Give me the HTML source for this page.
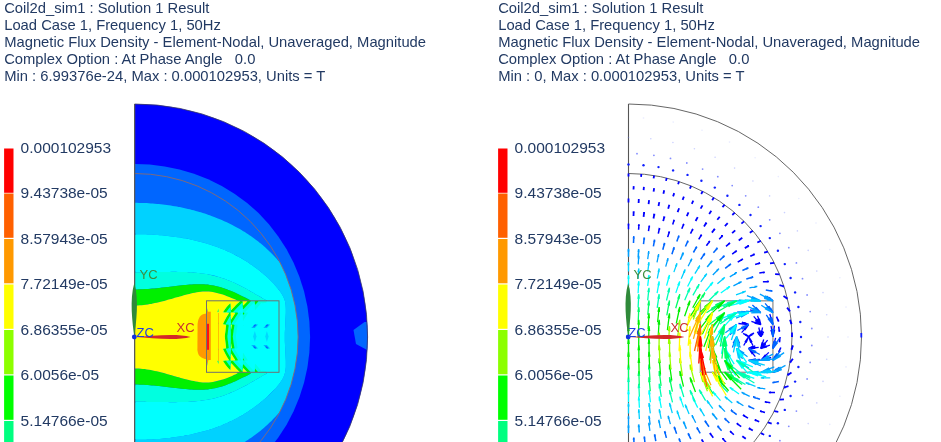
<!DOCTYPE html>
<html><head><meta charset="utf-8"><title>Coil2d_sim1 : Solution 1 Result</title>
<style>html,body{margin:0;padding:0;background:#fff;overflow:hidden}svg{display:block}text{white-space:pre}text{font-family:"Liberation Sans",sans-serif;fill:#223a63}</style>
</head><body>
<svg width="941" height="442" viewBox="0 0 941 442">
<rect width="941" height="442" fill="#fff"/>
<text x="4.2" y="13.2" font-size="14.77" xml:space="preserve">Coil2d_sim1 : Solution 1 Result</text>
<text x="4.2" y="30.2" font-size="14.77" xml:space="preserve">Load Case 1, Frequency 1, 50Hz</text>
<text x="4.2" y="47.2" font-size="14.77" xml:space="preserve">Magnetic Flux Density - Element-Nodal, Unaveraged, Magnitude</text>
<text x="4.2" y="64.2" font-size="14.77" xml:space="preserve">Complex Option : At Phase Angle   0.0</text>
<text x="4.2" y="81.2" font-size="14.77" xml:space="preserve">Min : 6.99376e-24, Max : 0.000102953, Units = T</text>
<text x="498.2" y="13.2" font-size="14.77" xml:space="preserve">Coil2d_sim1 : Solution 1 Result</text>
<text x="498.2" y="30.2" font-size="14.77" xml:space="preserve">Load Case 1, Frequency 1, 50Hz</text>
<text x="498.2" y="47.2" font-size="14.77" xml:space="preserve">Magnetic Flux Density - Element-Nodal, Unaveraged, Magnitude</text>
<text x="498.2" y="64.2" font-size="14.77" xml:space="preserve">Complex Option : At Phase Angle   0.0</text>
<text x="498.2" y="81.2" font-size="14.77" xml:space="preserve">Min : 0, Max : 0.000102953, Units = T</text>
<rect x="4.1" y="148.5" width="9.4" height="44.3" fill="#ff0000"/>
<text x="20.6" y="153" font-size="15.5">0.000102953</text>
<rect x="4.1" y="193.5" width="9.4" height="44.3" fill="#ff6000"/>
<text x="20.6" y="198" font-size="15.5">9.43738e-05</text>
<rect x="4.1" y="239" width="9.4" height="44.3" fill="#ff9900"/>
<text x="20.6" y="243.5" font-size="15.5">8.57943e-05</text>
<rect x="4.1" y="284.5" width="9.4" height="44.3" fill="#ffff00"/>
<text x="20.6" y="289" font-size="15.5">7.72149e-05</text>
<rect x="4.1" y="330" width="9.4" height="44.3" fill="#8cff00"/>
<text x="20.6" y="334.5" font-size="15.5">6.86355e-05</text>
<rect x="4.1" y="375.5" width="9.4" height="44.3" fill="#00ff00"/>
<text x="20.6" y="380" font-size="15.5">6.0056e-05</text>
<rect x="4.1" y="421" width="9.4" height="44.3" fill="#00ff80"/>
<text x="20.6" y="425.5" font-size="15.5">5.14766e-05</text>
<rect x="498.1" y="148.5" width="9.4" height="44.3" fill="#ff0000"/>
<text x="514.6" y="153" font-size="15.5">0.000102953</text>
<rect x="498.1" y="193.5" width="9.4" height="44.3" fill="#ff6000"/>
<text x="514.6" y="198" font-size="15.5">9.43738e-05</text>
<rect x="498.1" y="239" width="9.4" height="44.3" fill="#ff9900"/>
<text x="514.6" y="243.5" font-size="15.5">8.57943e-05</text>
<rect x="498.1" y="284.5" width="9.4" height="44.3" fill="#ffff00"/>
<text x="514.6" y="289" font-size="15.5">7.72149e-05</text>
<rect x="498.1" y="330" width="9.4" height="44.3" fill="#8cff00"/>
<text x="514.6" y="334.5" font-size="15.5">6.86355e-05</text>
<rect x="498.1" y="375.5" width="9.4" height="44.3" fill="#00ff00"/>
<text x="514.6" y="380" font-size="15.5">6.0056e-05</text>
<rect x="498.1" y="421" width="9.4" height="44.3" fill="#00ff80"/>
<text x="514.6" y="425.5" font-size="15.5">5.14766e-05</text>
<defs><clipPath id="cOut"><path d="M134.6,104 A233,233 0 0 1 134.6,570 Z"/></clipPath><clipPath id="cArc"><path d="M134.6,173.5 A163.5,163.5 0 0 1 134.6,500.5 Z"/></clipPath></defs>
<g clip-path="url(#cOut)">
<rect x="130" y="100" width="245" height="345" fill="#0000ff"/>
<path fill="#0066ff" d="M134.6,510 149.7,509.4 164.7,507.6 179.5,504.6 194,500.3 208.2,494.8 221.8,488.1 234.8,480.1 247.1,471.1 258.5,460.9 268.9,449.7 278.3,437.6 286.6,424.7 293.6,411.2 299.5,397 304.1,382.4 307.4,367.5 309.4,352.3 310.1,337 309.4,321.7 307.4,306.5 304.1,291.6 299.5,277 293.6,262.8 286.6,249.3 278.3,236.4 268.9,224.3 258.5,213.1 247.1,202.9 234.8,193.9 221.8,185.9 208.2,179.2 194,173.7 179.5,169.4 164.7,166.4 149.7,164.6 134.6,164Z"/>
<path fill="#0066ff" d="M353.5,330 L364.5,322 L369,322 L369,351 L356,344Z"/>
<g clip-path="url(#cArc)">
<path fill="#00d2ff" fill-rule="evenodd" d="M135.8,471.2 137.8,471.2 139.8,471.1 141.8,471.1 143.8,471 145.8,470.9 147.8,470.8 149.8,470.7 151.8,470.6 153.8,470.4 155.8,470.2 157.8,470.1 159.7,469.9 161.8,469.6 163.8,469.4 165.8,469.1 167.8,468.9 169.8,468.6 171.8,468.3 173.8,468 175.8,467.6 177.8,467.2 179.8,466.9 181.8,466.5 183.8,466 185.8,465.6 187.8,465.1 189.8,464.7 191.8,464.2 193.8,463.6 195.8,463.1 197.8,462.5 199.8,462 201.8,461.4 203.4,460.9 204.8,460.4 206.5,459.9 207.8,459.4 209.4,458.9 210.8,458.3 212.1,457.9 213.8,457.2 215.8,456.4 217.3,455.9 218.8,455.2 220.8,454.4 222.1,453.9 223.8,453.1 225.8,452.2 227.8,451.2 229.8,450.2 231.8,449.2 233.8,448.2 235.8,447.1 237.8,446 239.8,444.9 241.6,443.9 242.8,443.1 243.8,442.5 244.8,441.9 245.8,441.2 246.9,440.6 247.8,439.9 248.8,439.3 249.8,438.6 250.8,437.9 251.9,437.2 252.9,436.5 253.8,435.8 254.9,435 255.9,434.3 256.9,433.5 257.9,432.8 258.9,432 259.9,431.2 260.9,430.4 261.9,429.5 262.9,428.7 263.8,427.9 264.9,427 265.9,426.1 266.9,425.2 267.9,424.2 268.9,423.3 269.9,422.3 270.9,421.4 271.9,420.4 272.9,419.3 273.9,418.3 274.9,417.2 275.9,416.2 276.9,415 277.9,413.9 278.7,412.9 279.6,411.9 280.4,410.9 281.2,409.9 282,408.9 282.8,407.9 283.5,406.9 284.2,405.9 285,404.9 285.7,403.9 286.4,402.9 287,401.9 287.7,400.9 288.3,399.9 288.9,398.9 289.5,397.9 290.7,395.9 291.8,393.9 292.8,391.9 293.8,389.9 294.7,387.9 295.5,385.9 296.3,383.9 296.9,382.3 297.3,380.9 297.9,379.1 298.4,376.9 298.9,375.2 299.3,372.9 299.7,370.9 300,368.9 300.3,366.9 300.5,364.9 300.7,362.9 300.9,360.9 301,358.9 301.1,356.9 301.2,354.9 301.2,352.9 301.3,350.9 301.3,348.9 301.3,346.9 301.3,344.9 301.3,342.9 301.3,340.9 301.3,338.9 301.3,336.9 301.3,334.9 301.3,332.9 301.3,330.9 301.3,328.9 301.3,326.9 301.3,324.9 301.3,322.9 301.2,320.9 301.1,318.9 301.1,316.9 301,314.9 300.9,313.1 300.7,310.9 300.5,308.9 300.3,306.9 300,304.9 299.7,302.9 299.3,300.9 298.9,298.9 298.4,296.9 297.9,294.9 297.2,292.9 296.6,290.9 295.9,289 295,286.9 294.1,284.9 293.2,282.9 292.2,280.9 291.1,278.9 290,276.9 288.9,275 288.2,273.9 287.5,272.9 286.9,271.9 286.2,270.9 285.5,269.9 284.8,268.9 284.1,267.9 283.3,266.9 282.6,265.9 281.9,265 281,263.9 280.2,262.9 279.4,261.9 278.5,260.9 277.6,259.9 276.9,259 275.9,257.9 275,256.9 274,255.9 273.1,254.9 272.1,253.9 271.1,252.9 270.1,251.9 269,250.9 268,249.9 266.9,248.9 265.9,247.9 264.9,247 263.9,246.2 262.9,245.3 261.9,244.5 260.9,243.6 259.9,242.9 258.9,242 257.9,241.2 256.9,240.5 255.8,239.7 254.8,239 253.9,238.2 252.8,237.5 251.8,236.8 250.8,236.1 249.9,235.4 248.8,234.7 247.8,234.1 246.9,233.4 245.8,232.8 244.9,232.1 243.8,231.5 242.8,230.9 241.8,230.3 239.8,229.1 237.8,228 235.9,226.9 234,225.9 232.8,225.3 230.8,224.3 228.8,223.3 226.8,222.3 224.9,221.4 223.7,220.9 221.8,220 219.9,219.2 217.8,218.4 216.6,217.9 214.8,217.2 212.8,216.4 211.4,215.9 209.8,215.3 208.6,214.9 206.8,214.3 204.8,213.6 202.8,213 200.8,212.3 199.3,211.9 197.8,211.5 195.8,210.9 193.8,210.3 192,209.9 189.8,209.3 187.9,208.9 185.9,208.4 183.8,208 181.8,207.5 179.8,207.1 178.5,206.9 176.9,206.6 174.8,206.2 172.8,205.9 170.8,205.6 168.8,205.3 166.8,205 164.9,204.7 162.8,204.5 160.8,204.3 158.8,204 157.1,203.9 154.8,203.7 152.8,203.5 150.8,203.4 148.8,203.2 146.8,203.1 144.8,203 142.8,203 140.8,202.9 139.1,202.9 136.8,202.8 134.9,202.8 134.8,204.9 134.8,206.9 134.8,208.9 134.8,210.9 134.8,212.9 134.8,214.9 134.8,216.9 134.8,218.9 134.8,220.9 134.8,222.9 134.8,224.9 134.8,226.9 134.8,228.9 134.8,230.9 134.8,232.9 135.8,234.2 137.8,234.2 139.8,234.2 141.8,234.2 143.8,234.3 145.9,234.3 147.8,234.4 149.8,234.5 151.8,234.6 153.8,234.7 155.8,234.9 157.8,235 159.8,235.2 161.8,235.3 163.8,235.5 165.8,235.7 167.8,235.9 169.9,236.2 171.8,236.4 173.8,236.7 175.3,236.9 176.8,237.1 178.8,237.4 180.8,237.7 182.8,238 184.8,238.4 186.8,238.8 188.9,239.1 190.8,239.6 192.3,239.9 193.8,240.2 195.8,240.7 197.9,241.2 199.8,241.7 201.8,242.2 203.8,242.7 205.8,243.3 207.7,243.9 209.8,244.5 211.9,245.2 213.8,245.9 215.8,246.6 217.8,247.3 219.4,247.9 220.8,248.4 222.8,249.2 224.3,249.9 225.8,250.5 227.8,251.4 229.9,252.3 231,252.9 232.8,253.8 234.8,254.8 236.8,255.8 238.7,256.9 239.9,257.5 241.8,258.6 243.8,259.8 244.8,260.4 245.8,261.1 246.8,261.7 247.9,262.3 248.9,263 249.8,263.7 250.8,264.4 251.8,265 252.8,265.8 253.9,266.5 254.9,267.2 255.8,267.9 256.9,268.7 257.9,269.5 258.9,270.2 259.9,271 260.9,271.9 261.9,272.7 262.9,273.5 263.9,274.4 264.9,275.3 265.9,276.1 266.9,277.1 267.7,277.9 268.8,278.9 269.8,279.9 270.8,280.9 271.8,281.9 272.8,282.9 273.8,283.9 274.7,284.9 275.6,285.9 276.4,286.9 277.3,287.9 278.1,288.9 278.9,289.8 279.7,290.9 280.4,291.9 281.1,292.9 281.7,293.9 282.3,294.9 283.4,296.9 284.2,298.9 284.8,300.9 285.3,302.9 285.6,304.9 285.7,306.9 285.8,308.9 285.8,310.9 285.8,312.9 285.7,314.9 285.6,316.9 285.5,318.9 285.4,320.9 285.3,322.9 285.2,324.9 285.1,326.9 285,328.9 284.9,330.9 284.8,332.9 284.8,334.9 284.8,336.9 284.8,338.9 284.8,340.9 284.9,342.9 285,344.9 285.1,346.9 285.2,348.9 285.3,350.9 285.4,352.9 285.5,354.9 285.6,356.9 285.7,358.9 285.8,360.9 285.8,362.9 285.8,364.9 285.8,366.9 285.6,368.9 285.3,370.9 284.9,372.9 284.3,374.9 283.9,376 283,377.9 281.9,379.9 281.2,380.9 280.6,381.9 279.9,382.9 279.1,383.9 278.3,384.9 277.5,385.9 276.7,386.9 275.8,387.8 274.9,388.9 274,389.9 273.1,390.9 272.1,391.9 271.1,392.9 270.1,393.9 269.1,394.9 268,395.9 266.9,396.9 265.9,397.9 264.9,398.7 263.9,399.6 262.9,400.5 261.9,401.3 260.9,402.1 260,402.9 258.9,403.8 257.9,404.5 256.9,405.3 255.8,406.1 254.8,406.8 253.8,407.5 252.8,408.3 251.8,409 250.8,409.6 249.8,410.3 248.8,411 247.8,411.7 246.8,412.3 245.8,412.9 244.8,413.6 243.9,414.2 242.7,414.9 241,415.9 239.8,416.5 237.8,417.6 235.8,418.7 233.8,419.7 231.8,420.7 229.9,421.7 227.9,422.6 225.8,423.5 223.8,424.3 222.6,424.9 220.8,425.6 218.8,426.3 217.4,426.9 215.9,427.4 214.6,427.9 212.8,428.5 210.8,429.2 208.8,429.8 206.8,430.4 205.2,430.9 203.8,431.3 201.8,431.8 199.8,432.3 197.8,432.8 195.8,433.3 193.9,433.8 191.8,434.2 189.9,434.6 187.8,435 185.8,435.4 183.8,435.8 181.8,436.1 179.8,436.5 177.8,436.8 175.8,437.1 173.8,437.3 171.8,437.6 169.8,437.8 167.8,438.1 165.8,438.3 163.9,438.5 161.8,438.7 159.9,438.8 157.8,439 155.8,439.1 153.8,439.3 151.8,439.4 149.8,439.5 147.9,439.6 145.8,439.7 143.8,439.7 141.8,439.8 139.8,439.8 137.8,439.8 135.8,439.8 134.8,440.9 134.8,442.9 134.8,444.9 134.8,446.9 134.8,448.9 134.8,450.9 134.8,452.9 134.8,454.9 134.8,456.9 134.8,458.9 134.8,460.9 134.8,462.9 134.8,464.9 134.8,466.9 134.8,468.9 134.8,470.9Z"/>
<path fill="#00ffff" fill-rule="evenodd" d="M135.8,439.8 137.8,439.8 139.8,439.8 141.8,439.8 143.8,439.7 145.8,439.7 147.8,439.6 149.8,439.5 151.8,439.4 153.8,439.3 155.8,439.1 157.8,439 159.4,438.9 161.8,438.7 163.8,438.5 165.8,438.3 167.8,438.1 169.6,437.9 171.8,437.6 173.8,437.3 175.8,437.1 177.8,436.8 179.8,436.5 181.8,436.1 183.4,435.9 184.8,435.6 186.8,435.2 188.7,434.9 190.8,434.4 192.8,434 194.8,433.6 196.8,433.1 198.8,432.6 200.8,432.1 202.8,431.5 204.9,431 206.8,430.4 208.6,429.9 209.8,429.5 211.7,428.9 213.8,428.2 215.8,427.4 217.4,426.9 218.8,426.3 220.1,425.9 221.9,425.2 223.8,424.3 225.8,423.5 227.2,422.9 228.8,422.1 230.9,421.2 232.9,420.2 234.8,419.2 236.8,418.2 238.8,417.1 240.8,415.9 242.7,414.9 243.9,414.2 244.8,413.6 245.8,412.9 246.8,412.3 247.8,411.7 248.8,411 249.8,410.3 250.9,409.6 251.8,409 252.8,408.3 253.9,407.5 254.8,406.8 255.8,406.1 256.9,405.3 257.9,404.5 258.9,403.8 259.9,403 260.9,402.1 261.9,401.3 262.9,400.5 263.9,399.6 264.7,398.9 265.8,397.9 266.9,396.9 267.9,396 268.9,395.1 269.9,394.1 270.9,393.1 271.9,392.1 272.9,391.1 273.9,390 274.9,388.9 275.8,387.9 276.7,386.9 277.5,385.9 278.3,384.9 279.1,383.9 279.9,382.9 280.6,381.9 281.2,380.9 281.9,379.9 282.9,378.2 283.5,376.9 284.3,374.9 284.9,373.1 285.3,370.9 285.6,368.9 285.8,366.9 285.8,364.9 285.8,362.9 285.8,360.9 285.7,358.9 285.6,356.9 285.5,354.9 285.4,352.9 285.3,350.9 285.2,348.9 285.1,346.9 285,344.9 284.9,342.9 284.8,340.9 284.8,338.9 284.8,336.9 284.8,334.9 284.8,332.9 284.9,330.9 285,328.9 285.1,326.9 285.2,324.9 285.3,322.9 285.4,320.9 285.5,318.9 285.6,316.9 285.7,314.9 285.8,312.9 285.8,310.9 285.8,308.9 285.7,306.9 285.6,304.9 285.3,302.9 284.9,300.9 284.2,298.9 283.4,296.9 282.3,294.9 281.7,293.9 281.1,292.9 280.4,291.9 279.7,290.9 278.9,289.9 278.1,288.9 277.3,287.9 276.4,286.9 275.6,285.9 274.7,284.9 273.9,284 272.9,282.9 271.9,281.9 270.9,280.9 269.9,279.9 268.9,278.9 267.9,278 266.9,277.1 265.9,276.1 264.9,275.3 263.9,274.4 262.9,273.5 261.9,272.7 260.9,271.9 259.9,271 258.9,270.2 257.9,269.5 256.9,268.7 255.8,267.9 254.8,267.2 253.8,266.5 252.8,265.8 251.8,265 250.8,264.4 249.8,263.7 248.8,263 247.9,262.3 246.8,261.7 245.8,261.1 244.8,260.4 243.8,259.8 242.8,259.2 240.8,258.1 238.8,256.9 236.9,255.9 235,254.9 233.8,254.3 231.8,253.3 229.8,252.3 227.8,251.4 226.6,250.9 224.8,250.1 222.8,249.2 220.9,248.4 219.4,247.9 217.8,247.3 215.8,246.6 213.9,245.9 211.8,245.2 209.8,244.5 207.8,243.9 205.8,243.3 204.3,242.9 202.9,242.5 200.8,241.9 198.8,241.4 196.8,240.9 194.8,240.4 192.8,240 190.8,239.6 188.8,239.1 187.4,238.9 185.8,238.6 183.8,238.2 181.9,237.9 179.8,237.5 177.8,237.2 175.8,236.9 173.8,236.7 171.8,236.4 169.8,236.2 167.8,235.9 165.8,235.7 163.8,235.5 161.8,235.3 159.8,235.2 157.8,235 155.9,234.9 153.8,234.7 151.8,234.6 149.8,234.5 147.8,234.4 145.8,234.3 143.8,234.3 141.8,234.2 139.8,234.2 137.8,234.2 135.8,234.2 134.8,234.9 134.8,236.9 134.8,238.9 134.8,240.9 134.8,242.9 134.8,244.9 134.8,246.9 134.8,248.9 134.8,250.9 134.8,252.9 134.8,254.9 134.8,256.9 134.8,258.9 134.8,260.9 134.8,262.9 134.8,264.9 134.8,266.9 134.8,268.9 134.8,270.9 135.8,272.2 137.8,272.2 139.8,272.2 141.8,272.2 143.8,272.2 145.8,272.1 147.8,272.1 149.8,272.1 151.8,272.1 153.8,272 155.8,272 157.8,272 159.9,272 161.8,271.9 163.8,271.9 165.8,271.9 167.8,271.9 169.8,271.9 171.8,271.8 173.8,271.8 175.8,271.8 177.8,271.9 179.8,271.9 181.8,271.9 183.8,272 185.9,272.1 187.8,272.1 189.8,272.2 191.8,272.4 193.8,272.5 195.8,272.7 197.7,272.9 199.8,273.1 201.8,273.4 203.8,273.7 205.8,274 207.8,274.3 209.8,274.7 211.8,275.1 213.8,275.6 215.8,276.1 217.8,276.7 219.9,277.3 221.8,277.9 223.8,278.6 225.8,279.3 227.4,279.9 228.8,280.4 230.8,281.3 232.3,281.9 233.8,282.6 235.8,283.5 237.9,284.4 239.9,285.4 241.9,286.5 243.8,287.5 245.8,288.6 247.8,289.7 249.8,290.8 251.7,291.9 252.8,292.5 254.8,293.7 256.8,294.9 257.9,295.5 259.9,296.6 261.9,297.8 263.7,298.9 264.9,299.5 266.9,300.6 265.9,301.6 263.9,302.3 262.4,302.9 260.9,303.4 259.6,303.9 257.9,304.5 255.8,305.3 254.6,305.9 252.8,306.7 250.8,307.7 248.8,308.8 247.9,309.5 246.8,310.2 245.9,310.9 244.8,311.8 243.8,312.7 242.9,313.8 242,314.9 241.3,315.9 240.6,316.9 239.8,318.3 239.1,319.9 238.4,321.9 237.8,323.8 237.4,325.9 237,327.9 236.8,329.4 236.7,330.9 236.5,332.9 236.4,334.9 236.4,336.9 236.4,338.9 236.5,340.9 236.7,342.9 236.8,344.6 237.2,346.9 237.5,348.9 237.8,350.2 238.3,351.9 238.8,353.4 239.5,354.9 240.5,356.9 241.1,357.9 241.8,358.9 242.6,359.9 243.4,360.9 244.4,361.9 245.6,362.9 246.8,363.8 247.8,364.5 248.8,365.2 250,365.9 251.8,366.9 253.8,367.8 255.8,368.7 257.9,369.5 259.9,370.2 261.6,370.9 262.9,371.3 264.5,371.9 265.9,372.4 267.1,372.9 266,373.9 264.9,374.5 262.9,375.6 260.9,376.8 259,377.9 257.9,378.5 255.8,379.7 253.8,380.9 252.1,381.9 250.8,382.6 248.8,383.7 246.9,384.9 245,385.9 243.9,386.5 241.8,387.5 239.8,388.6 237.9,389.6 235.8,390.5 233.8,391.4 231.8,392.3 230.5,392.9 228.9,393.6 226.8,394.3 225.4,394.9 223.8,395.4 222.5,395.9 220.8,396.4 219.4,396.9 217.8,397.3 215.9,397.9 213.8,398.4 211.8,398.9 209.8,399.3 207.9,399.7 205.8,400 203.8,400.3 201.9,400.6 200,400.9 197.9,401.1 195.8,401.3 193.8,401.5 191.8,401.6 189.8,401.8 187.8,401.9 185.8,401.9 183.8,402 181.8,402.1 179.8,402.1 177.8,402.1 175.8,402.2 173.8,402.2 171.8,402.2 169.8,402.2 167.8,402.1 165.8,402.1 163.8,402.1 161.8,402.1 159.8,402 157.8,402 155.8,402 153.8,402 151.8,401.9 149.8,401.9 147.8,401.9 145.8,401.9 143.8,401.8 141.8,401.8 139.8,401.8 137.8,401.8 135.8,401.8 134.8,402.9 134.8,404.9 134.8,406.9 134.8,408.9 134.8,410.9 134.8,412.9 134.8,414.9 134.8,416.9 134.8,418.9 134.8,420.9 134.8,422.9 134.8,424.9 134.8,426.9 134.8,428.9 134.8,430.9 134.8,432.9 134.8,434.9 134.8,436.9 134.8,438.9Z"/>
<path fill="#00ffe0" fill-rule="evenodd" d="M147.8,401.9 149.8,401.9 151.8,401.9 153.8,402 155.8,402 157.8,402 159.8,402 161.8,402.1 163.8,402.1 165.8,402.1 167.8,402.1 169.8,402.2 171.8,402.2 173.9,402.2 175.8,402.2 177.8,402.1 179.8,402.1 181.8,402.1 183.8,402 185.8,401.9 187.5,401.9 189.8,401.8 191.9,401.6 193.8,401.5 195.8,401.3 197.9,401.1 199.8,400.9 201.9,400.6 203.8,400.3 205.8,400 207.8,399.7 209.8,399.3 211.8,398.9 213.8,398.4 215.8,397.9 217.8,397.3 219.4,396.9 220.8,396.4 222.5,395.9 223.8,395.4 225.4,394.9 226.8,394.3 228,393.9 229.8,393.1 231.8,392.3 233.9,391.4 235.1,390.9 236.8,390 238.8,389.1 240.8,388.1 242.8,387 244.8,386 246.8,384.9 248.6,383.9 249.8,383.2 251.8,382 253.8,380.9 255.6,379.9 256.9,379.1 258.9,377.9 260.7,376.9 261.9,376.2 263.9,375.1 265.9,374 266.9,373.1 265.9,372.4 264.5,371.9 262.9,371.3 261.6,370.9 259.9,370.2 257.9,369.5 256.3,368.9 254.9,368.2 252.8,367.3 250.9,366.3 248.8,365.2 247.8,364.5 246.9,363.9 245.8,363.1 244.8,362.2 243.8,361.3 242.8,360.2 241.8,359 241.1,357.9 240.5,356.9 239.8,355.7 239,353.9 238.3,351.9 237.8,350.2 237.5,348.9 237.2,346.9 236.9,344.9 236.7,342.9 236.5,340.9 236.4,338.9 236.4,336.9 236.4,334.9 236.5,332.9 236.7,330.9 236.8,329.4 237,327.9 237.4,325.9 237.8,323.9 238.4,321.9 238.8,320.6 239.6,318.9 240.6,316.9 241.3,315.9 242,314.9 242.8,313.9 243.7,312.9 244.7,311.9 245.8,310.9 246.8,310.2 247.8,309.5 248.8,308.8 250.5,307.9 251.9,307.1 253.8,306.2 255.8,305.3 257.9,304.5 259.6,303.9 260.9,303.4 262.4,302.9 263.9,302.3 265.2,301.9 266.9,301.1 265.9,300.1 263.9,298.9 262,297.9 260.9,297.2 258.9,296.1 256.9,294.9 255.1,293.9 253.8,293.1 251.8,292 249.9,290.9 248.9,290.3 246.8,289.1 244.8,288 242.9,287 240.8,285.9 238.8,284.9 236.8,284 234.8,283 232.8,282.1 230.8,281.3 228.8,280.4 227.4,279.9 225.8,279.3 223.8,278.6 221.8,277.9 219.8,277.3 218.5,276.9 216.8,276.4 214.9,275.9 212.9,275.4 210.8,274.9 208.8,274.5 206.8,274.1 205.2,273.9 202.9,273.5 200.8,273.2 198.8,273 196.8,272.8 194.8,272.6 192.8,272.4 190.8,272.3 188.8,272.2 186.8,272.1 184.8,272 182.8,272 180.8,271.9 178.8,271.9 176.8,271.9 174.8,271.8 172.8,271.8 170.8,271.8 168.8,271.9 167.2,271.9 164.8,271.9 162.8,271.9 160.8,271.9 158.8,272 156.8,272 154.8,272 152.8,272.1 150.8,272.1 148.8,272.1 146.8,272.1 144.8,272.2 142.8,272.2 140.8,272.2 138.8,272.2 136.8,272.2 134.8,272.2 134.8,273.9 134.8,275.9 134.8,277.9 134.8,279.9 134.8,281.9 134.8,283.9 134.8,285.9 134.8,287.9 135.8,289.4 137.9,289.4 139.8,289.3 141.8,289.2 143.8,289.2 145.8,289.1 147.8,288.9 149.8,288.8 151.8,288.6 153.8,288.5 155.8,288.3 157.8,288.1 159.8,287.9 161.8,287.6 163.8,287.4 165.8,287.2 167.8,286.9 169.8,286.7 171.8,286.4 173.8,286.2 175.9,285.9 177.8,285.7 179.8,285.5 181.8,285.3 183.8,285 185.6,284.9 187.8,284.7 189.8,284.5 191.8,284.4 193.8,284.3 195.8,284.2 197.8,284.2 199.8,284.2 201.8,284.2 203.8,284.3 205.8,284.4 207.8,284.6 209.7,284.9 211.8,285.2 213.8,285.6 215.3,285.9 216.9,286.2 218.8,286.7 220.8,287.3 222.7,287.9 224.8,288.6 226.8,289.3 228.3,289.9 229.8,290.5 231.9,291.3 233.2,291.9 234.8,292.6 236.8,293.5 238.9,294.4 240.8,295.4 242.8,296.4 244.8,297.3 246.8,298.3 248.9,299.4 250.8,300.4 249.9,301.8 247.8,302.7 245.8,303.6 243.9,304.6 241.8,305.7 240.8,306.4 239.8,307.1 238.9,307.9 237.8,308.8 236.9,309.9 236.1,310.9 235.4,311.9 234.8,312.9 233.8,314.7 233.4,315.9 232.8,317.4 232.4,318.9 232,320.9 231.7,322.9 231.4,324.9 231.2,326.9 231.1,328.9 230.9,330.9 230.9,332.9 230.8,334.9 230.8,336.9 230.8,338.9 230.9,340.9 230.9,342.9 231,344.9 231.2,346.9 231.4,348.9 231.6,350.9 231.9,352.3 232.1,353.9 232.6,355.9 233.3,357.9 233.8,359.3 234.6,360.9 235.8,362.8 236.7,363.9 237.6,364.9 238.6,365.9 239.8,366.9 240.9,367.6 241.8,368.3 242.9,368.9 244.7,369.9 245.8,370.4 247.8,371.3 249.1,371.9 250.8,372.6 250.4,373.9 248.8,374.6 246.8,375.7 244.8,376.7 242.9,377.6 240.8,378.6 238.8,379.6 236.8,380.5 234.8,381.4 232.8,382.3 231.5,382.9 229.8,383.5 227.8,384.3 226.3,384.9 224.9,385.4 223.5,385.9 221.9,386.4 220.2,386.9 218.8,387.3 216.8,387.8 214.8,388.2 212.8,388.6 211.4,388.9 209.8,389.1 207.8,389.4 205.8,389.6 203.8,389.7 201.8,389.8 199.8,389.8 197.8,389.8 195.8,389.8 193.8,389.7 191.8,389.6 189.8,389.5 187.8,389.3 185.8,389.1 183.8,389 181.8,388.7 179.8,388.5 177.8,388.3 175.8,388.1 174.4,387.9 172.8,387.7 170.8,387.4 168.8,387.2 166.8,386.9 164.8,386.7 162.8,386.5 160.8,386.2 158.9,386 157.3,385.9 155.8,385.7 153.8,385.5 151.8,385.4 149.8,385.2 147.8,385.1 145.8,384.9 143.8,384.8 141.8,384.8 139.8,384.7 137.8,384.6 135.8,384.6 134.8,385.9 134.8,387.9 134.8,389.9 134.8,391.9 134.8,393.9 134.8,395.9 134.8,397.9 134.8,399.9 134.8,401.8 136.8,401.8 138.8,401.8 140.8,401.8 142.8,401.8 144.8,401.8 146.8,401.9Z"/>
<path fill="#00f000" fill-rule="evenodd" d="M183.8,389 185.8,389.1 187.8,389.3 189.8,389.5 191.9,389.6 193.8,389.7 195.8,389.8 197.8,389.8 199.8,389.8 201.8,389.8 203.8,389.7 205.8,389.6 207.8,389.4 209.8,389.1 211.4,388.9 212.8,388.6 214.8,388.2 216.4,387.9 217.9,387.5 219.8,387 221.8,386.4 223.5,385.9 224.8,385.4 226.3,384.9 227.9,384.3 229.8,383.5 231.5,382.9 232.8,382.3 234.8,381.4 236,380.9 237.8,380 239.8,379.1 241.8,378.1 243.9,377.1 245.9,376.2 247.9,375.2 249.8,374.1 250.9,373.5 249.8,372.2 247.8,371.3 245.8,370.4 244.7,369.9 242.8,368.9 241.8,368.3 240.9,367.6 239.8,366.9 238.8,366.1 237.8,365.2 236.8,364.1 235.9,362.9 235.2,361.9 234.1,359.9 233.3,357.9 232.8,356.6 232.4,354.9 231.9,352.9 231.6,350.9 231.4,348.9 231.2,346.9 231,344.9 230.9,342.9 230.9,340.9 230.8,338.9 230.8,336.9 230.8,334.9 230.9,332.9 230.9,330.9 231.1,328.9 231.2,326.9 231.4,324.9 231.7,322.9 232,320.9 232.4,318.9 232.8,317.4 233.4,315.9 233.8,314.7 234.8,312.9 235.4,311.9 236.1,310.9 236.8,309.9 237.8,308.9 238.8,307.9 239.8,307.1 240.8,306.4 241.8,305.7 242.8,305.1 244.9,304 246.8,303.1 248.9,302.2 250.9,301.3 249.9,299.9 247.9,298.9 245.9,297.9 243.9,296.9 241.9,295.9 239.8,294.9 237.8,294 235.8,293 233.9,292.1 231.9,291.3 229.8,290.5 228.3,289.9 226.8,289.3 225.6,288.9 223.8,288.3 221.8,287.6 219.9,287 217.9,286.5 215.8,286 213.8,285.6 211.9,285.2 209.8,284.9 207.9,284.6 205.8,284.4 203.8,284.3 201.8,284.2 199.8,284.2 197.8,284.2 195.9,284.2 193.8,284.3 191.8,284.4 189.9,284.5 187.8,284.7 185.8,284.9 183.8,285 181.8,285.3 179.8,285.5 177.8,285.7 175.8,285.9 173.8,286.2 171.8,286.4 169.8,286.7 168.4,286.9 166.8,287.1 164.8,287.3 162.9,287.5 160.8,287.8 158.8,288 156.8,288.2 154.9,288.4 152.8,288.6 150.8,288.7 148.8,288.9 146.8,289 144.8,289.1 142.8,289.2 140.8,289.3 138.8,289.3 136.8,289.4 134.8,289.4 134.8,291.9 134.8,293.9 134.8,295.9 134.8,297.9 134.8,299.9 134.8,301.9 134.8,303.9 134.8,305.5 136.8,305.5 138.8,305.4 140.8,305.3 142.8,305.1 144.8,304.9 146.8,304.6 148.8,304.3 150.8,303.9 152.8,303.6 154.9,303.1 156.8,302.7 158.8,302.2 160.3,301.9 161.8,301.5 163.8,300.9 165.8,300.4 167.8,299.9 169.8,299.3 171.3,298.9 172.8,298.4 174.8,297.9 176.8,297.3 178.2,296.9 179.8,296.4 181.8,295.9 183.8,295.3 185.5,294.9 186.8,294.5 188.8,294 190.8,293.5 192.8,293.1 194.8,292.7 196.8,292.3 198.8,292 200.8,291.8 202.8,291.6 204.8,291.5 206.8,291.5 208.9,291.6 210.8,291.8 212.8,292 214.8,292.4 216.8,292.9 218.9,293.4 220.6,293.9 221.9,294.3 223.7,294.9 225.8,295.6 227.8,296.4 229,296.9 230.8,297.6 232.8,298.5 234.8,299.3 236.1,299.9 237.8,300.8 236.8,301.8 235.1,302.9 233.8,303.7 232.8,304.5 231.8,305.4 230.8,306.4 229.8,307.8 229.2,308.9 228.3,310.9 227.8,312.1 227.4,313.9 227,315.9 226.7,317.9 226.5,319.9 226.4,321.9 226.3,323.9 226.2,325.9 226.2,327.9 226.2,329.9 226.1,331.9 226.1,333.9 226.1,335.9 226.1,337.9 226.1,339.9 226.1,341.9 226.2,343.9 226.2,345.9 226.2,347.9 226.3,349.9 226.4,351.9 226.5,353.9 226.7,355.9 227,357.9 227.3,359.9 227.8,361.9 228.6,363.9 229.6,365.9 230.3,366.9 231.1,367.9 232.1,368.9 233.3,369.9 234.7,370.9 235.8,371.6 237.8,372.8 236.8,373.7 234.8,374.7 232.9,375.5 230.9,376.4 229.7,376.9 227.8,377.6 225.8,378.4 224.4,378.9 222.8,379.4 221.4,379.9 219.8,380.4 217.9,380.9 215.8,381.4 213.9,381.8 211.8,382.1 209.8,382.3 207.8,382.5 205.8,382.5 203.8,382.5 201.8,382.3 199.8,382.1 198,381.9 195.8,381.5 193.8,381.1 191.8,380.7 189.8,380.2 188.4,379.9 186.8,379.5 184.8,379 182.8,378.4 180.9,377.9 178.8,377.3 177.3,376.9 175.8,376.4 173.9,375.9 171.8,375.3 170.4,374.9 168.8,374.4 166.8,373.9 164.8,373.3 163.2,372.9 161.9,372.5 159.8,372 157.8,371.5 155.8,371.1 153.8,370.6 151.8,370.2 149.8,369.9 147.8,369.6 145.8,369.3 143.8,369 142.3,368.9 139.9,368.7 137.8,368.6 135.8,368.5 134.8,369.9 134.8,371.9 134.8,373.9 134.8,375.9 134.8,377.9 134.8,379.9 134.8,381.9 134.8,383.9 135.8,384.6 137.8,384.6 139.8,384.7 141.8,384.8 143.8,384.8 145.8,384.9 147.8,385.1 149.8,385.2 151.8,385.4 153.8,385.5 155.8,385.7 157.3,385.9 158.8,386 160.9,386.2 162.8,386.5 164.8,386.7 166.8,386.9 168.8,387.2 170.8,387.4 172.8,387.7 174.4,387.9 175.8,388.1 177.9,388.3 179.8,388.5 181.8,388.7Z"/>
<path fill="#ffff00" fill-rule="evenodd" d="M198.8,382 200.8,382.2 202.8,382.4 204.8,382.5 206.8,382.5 208.8,382.4 210.8,382.2 212.9,382 214.8,381.6 216.9,381.1 218.8,380.6 220.8,380.1 222.8,379.4 224.4,378.9 225.8,378.4 227.1,377.9 228.9,377.2 230.8,376.4 232.1,375.9 233.8,375.1 235.8,374.2 237.8,373 236.8,372.2 234.8,371 233.8,370.3 232.8,369.5 231.8,368.6 230.9,367.6 229.8,366.2 229,364.9 228.2,362.9 227.6,360.9 227.1,358.9 226.8,357.1 226.6,354.9 226.4,352.9 226.3,350.9 226.3,348.9 226.2,346.9 226.2,344.9 226.1,342.9 226.1,340.9 226.1,338.9 226.1,336.9 226.1,334.9 226.1,332.9 226.1,330.9 226.2,328.9 226.2,326.9 226.3,324.9 226.3,322.9 226.5,320.9 226.6,318.9 226.8,316.9 227.2,314.9 227.6,312.9 228.3,310.9 228.8,309.5 229.8,307.9 230.5,306.9 231.3,305.9 232.4,304.9 233.6,303.9 234.8,303 235.8,302.4 237.8,301 236.9,300.3 234.8,299.3 232.8,298.5 231.5,297.9 229.8,297.2 227.8,296.4 226.5,295.9 224.8,295.3 222.8,294.6 220.8,293.9 218.8,293.4 216.9,292.9 214.8,292.4 212.8,292 210.8,291.8 208.9,291.6 206.8,291.5 204.8,291.5 202.8,291.6 200.8,291.8 198.8,292 196.8,292.3 194.8,292.7 192.8,293.1 190.8,293.5 189.4,293.9 187.8,294.3 185.8,294.8 183.8,295.3 181.8,295.9 179.8,296.4 178.2,296.9 176.8,297.3 174.8,297.8 172.9,298.4 171.3,298.9 169.8,299.3 167.8,299.8 165.8,300.4 164.1,300.9 162.8,301.2 160.8,301.7 158.8,302.2 156.8,302.7 154.8,303.1 152.8,303.6 151.2,303.9 149.8,304.1 147.8,304.4 145.8,304.7 143.8,305 141.8,305.2 139.8,305.3 137.8,305.4 135.8,305.5 134.8,306.9 134.8,308.9 134.8,310.9 134.8,312.9 134.8,314.9 134.8,316.9 134.8,318.9 134.8,320.9 134.8,322.9 134.8,324.9 134.8,326.9 134.8,328.9 134.8,330.9 134.8,332.9 134.8,334.9 134.8,336.9 134.8,338.9 134.8,340.9 134.8,342.9 134.8,344.9 134.8,346.9 134.8,348.9 134.8,350.9 134.8,352.9 134.8,354.9 134.8,356.9 134.8,358.9 134.8,360.9 134.8,362.9 134.8,364.9 134.8,366.9 134.8,368.5 136.8,368.5 138.8,368.6 140.8,368.7 142.8,368.9 144.8,369.1 146.8,369.4 148.8,369.7 150.8,370.1 152.8,370.4 154.8,370.9 156.8,371.3 158.8,371.8 160.8,372.3 162.8,372.8 164.8,373.3 166.8,373.9 168.8,374.4 170.4,374.9 171.8,375.3 173.8,375.9 175.8,376.4 177.3,376.9 178.9,377.3 180.8,377.9 182.8,378.4 184.5,378.9 185.9,379.2 187.8,379.7 189.8,380.2 191.9,380.7 193.8,381.1 195.8,381.5 197.8,381.8Z"/>
</g>
<defs><clipPath id="cCoil"><rect x="206.5" y="300.8" width="72.5" height="71.5"/></clipPath></defs><g clip-path="url(#cCoil)">
<rect x="206.5" y="300.8" width="72.5" height="71.5" fill="#00ffff"/>
<path fill="#00ffe0" fill-rule="evenodd" d="M251,301.2 252,300.8 253,300.8 254,300.8 254.8,301.3 254.8,302.3 254.9,303.3 254.9,304.3 255,305.2 255.5,304.7 256,304.1 256.5,303.5 257,303 257.5,302.4 258,301.8 258.4,301.3 259,300.8 260,300.8 261,300.8 262,300.8 263,300.8 264,300.8 265,300.8 266,300.8 266.7,301.3 266.6,302.3 266,302.8 265,302.9 264,303.1 263,303.2 262,303.3 261.6,302.8 261,303.3 260.6,303.8 260.2,304.3 259.8,304.8 259.4,305.3 259,305.8 258.5,306.3 258.1,306.8 257.7,307.3 257.2,307.8 256.8,308.3 256.4,308.8 255.9,309.3 255.5,309.8 255,310.3 254.9,309.3 254.9,308.3 254.8,307.3 254.8,306.3 254.7,305.3 254.6,304.3 254.6,303.3 254.5,302.3 253.8,302.8 253.3,303.3 252.9,303.8 252.4,304.3 251.9,304.8 251.5,305.3 251,305.8 250.5,306.3 250.1,306.8 249.6,307.3 249.1,307.8 248.7,308.3 248.2,308.8 247.8,309.3 247.3,309.8 246.8,310.3 246.4,310.8 245.9,311.3 245.5,311.8 245.1,312.3 246,312.4 247,312.6 248,312.7 247.6,313.8 247,314.7 246.6,315.3 246,316.2 245.6,316.8 245,317.8 244.5,318.6 244.1,319.3 243.5,320.3 243,321.1 242.9,319.8 242.9,318.8 242.8,317.8 242.8,316.8 242.7,315.8 242.7,314.8 242.6,313.8 242.5,312.8 242.8,311.8 242.8,310.8 242.7,309.8 242.6,308.8 242.6,307.8 242.5,306.8 241.8,307.3 241.3,307.8 240.9,308.3 240.4,308.8 239.9,309.3 239.5,309.8 239,310.3 238.5,310.8 238.1,311.3 237.7,311.8 237.2,312.3 238.5,312.4 239.5,312.5 240.5,312.6 241.5,312.7 241.3,313.8 240.6,314.8 240,315.7 239.6,316.3 239,317.3 238.5,318.1 238,318.8 237.5,319.7 237.1,320.3 236.5,321.3 236,322.2 235.6,322.8 235,323.8 235.5,324.4 236.5,324.6 237.5,324.8 237.5,325.8 237.4,326.8 237.2,327.8 237,328.8 236.8,329.8 236.7,330.8 236.5,331.8 236.4,332.8 236.3,333.8 236.1,334.8 236,335.8 236,336.8 236.1,337.8 236.2,338.8 236.3,339.8 236.4,340.8 236.6,341.8 236.7,342.8 236.9,343.8 237,344.7 237.2,345.8 237.4,346.8 237.6,347.8 237,348.4 236,348.6 235,348.7 235.2,349.8 235.8,350.8 236.4,351.8 237,352.8 237.5,353.7 237.9,354.3 238.5,355.3 239,356.1 239.4,356.8 240,357.7 240.4,358.3 241,359.3 241.5,360 240.5,360.4 239.5,360.6 238.5,360.7 237.5,360.7 237.8,361.8 238.2,362.3 238.6,362.8 239.1,363.3 239.5,363.8 240,364.3 240.4,364.8 240.9,365.3 241.3,365.8 241.8,366.3 242.3,366.8 242.6,365.8 242.6,364.8 242.7,363.8 242.8,362.8 242.8,361.8 242.9,360.8 242.6,359.8 242.7,358.8 242.7,357.8 242.8,356.8 242.8,355.8 242.9,354.8 242.9,353.8 243,352.8 243.5,353.2 243.8,353.8 244.4,354.8 245,355.7 245.3,356.3 246,357.3 246.5,358.1 246.9,358.8 247.5,359.7 247.9,360.3 247,360.5 246,360.6 245,360.8 245.5,361.8 245.9,362.3 246.4,362.8 246.8,363.3 247.2,363.8 247.7,364.3 248.1,364.8 248.6,365.3 249,365.8 249.5,366.3 249.9,366.8 250.4,367.3 250.9,367.8 251.3,368.3 251.8,368.8 252.2,369.3 252.7,369.8 253.1,370.3 253.6,370.8 254,371.3 254.5,371.8 254.6,370.8 254.6,369.8 254.7,368.8 254.8,367.8 254.8,366.8 254.9,365.8 254.9,364.8 255,363.8 255.7,364.3 256.1,364.8 256.6,365.3 257,365.8 257.4,366.3 257.8,366.8 258.3,367.3 258.7,367.8 259.1,368.3 259.5,368.8 259.9,369.3 260.3,369.8 260.7,370.3 261.5,371.3 262,370.7 263,370.8 264,370.9 265,371.1 266,371.2 266.6,371.8 266,372.3 265,372.3 264,372.3 263,372.3 262,372.3 261,372.3 260,372.3 259,372.3 258,372.1 257.5,371.5 257,370.9 256.5,370.3 256,369.8 255.6,369.3 255.2,368.8 254.9,369.8 254.9,370.8 254.8,371.8 254,372.3 253,372.3 252,372.3 251,372.3 250.3,371.8 249.9,371.3 249.4,370.8 248.9,370.3 248.4,369.8 248,369.3 247.5,368.8 247,368.3 246.6,367.8 246.1,367.3 245.6,366.8 245.2,366.3 244.7,365.8 244.3,365.3 243.8,364.8 243.3,364.3 242.9,364.8 242.9,365.8 242.8,366.8 242.7,367.8 242.7,368.8 242.6,369.8 242.5,370.8 241.5,370.4 241,369.8 240.5,369.3 240,368.8 239.5,368.3 239,367.8 238.5,367.3 238.1,366.8 237.6,366.3 237.1,365.8 236.7,365.3 236.2,364.8 235.8,364.3 235.3,363.8 234.9,363.3 234.4,362.8 234,362.3 233.6,361.8 233.1,361.3 232.7,360.8 234,360.7 235,360.6 236,360.5 237,360.4 238,360.3 237.6,359.3 237,358.4 236.6,357.8 236,356.8 235.5,356 235,355.3 234.5,354.4 234.1,353.8 233.5,352.8 233,351.9 232.6,351.3 232,350.3 231.5,349.4 232,348.7 233,348.5 234,348.4 234.4,347.8 234.2,346.8 234.1,345.8 233.9,344.8 233.8,343.8 233.6,342.8 233.5,341.8 233.3,340.8 233.2,339.8 233.1,338.8 233,337.8 232.8,336.8 232.9,335.8 233,334.8 233.2,333.8 233.3,332.8 233.4,331.8 233.6,330.8 233.7,329.8 233.9,328.8 234,328 234.2,326.8 234.4,325.8 234.6,324.8 233.5,324.6 232.5,324.5 231.5,324.3 231.8,323.3 232.4,322.3 233,321.3 233.5,320.5 233.9,319.8 234.5,318.9 234.9,318.3 235.5,317.3 236,316.6 236.5,315.8 237,315 237.5,314.3 238,313.5 238.5,312.8 237.5,312.7 236.5,312.6 235.5,312.5 234.5,312.4 233.5,312.3 233.8,311.3 234.3,310.8 234.7,310.3 235.2,309.8 235.6,309.3 236.1,308.8 236.6,308.3 237,307.8 237.5,307.3 238,306.8 238.5,306.3 239,305.8 239.5,305.3 240,304.8 240.5,304.3 241,303.8 241.5,303.3 242,302.8 242.5,302.3 242.6,303.3 242.6,304.3 242.7,305.3 242.8,306.3 242.8,307.3 242.9,308.3 243,309.3 243.8,308.8 244.3,308.3 244.8,307.8 245.2,307.3 245.7,306.8 246.2,306.3 246.7,305.8 247.1,305.3 247.6,304.8 248.1,304.3 248.6,303.8 249.1,303.3 249.5,302.8 250,302.3 250.5,301.8 250.9,301.3ZM242.8,312.8 242.9,313.8 243,314.8 243.7,314.3 244.4,313.3 244,312.7 243,312.6ZM243,358.3 242.9,359.3 242.9,360.3 244,360.4 243.8,359.3 243.1,358.3ZM230.5,306.7 230.6,307.8 230.6,308.8 230.7,309.8 230.8,310.8 230.8,311.8 230.5,312.6 229.5,312.6 228.5,312.5 227.5,312.4 226.5,312.3 226.8,311.3 227.5,310.3 227.9,309.8 228.5,309 229,308.4 229.5,307.8 230,307.3 230.4,306.8ZM230.5,315.5 230.6,316.8 230.6,317.8 230.7,318.8 230.7,319.8 230.8,320.8 230.8,321.8 230.9,322.8 231,323.8 230.7,324.8 230.7,325.8 230.7,326.8 230.7,327.8 230.7,328.8 230.7,329.8 230.7,330.8 230.8,331.8 230.8,332.8 230.8,333.8 230.8,334.8 230.8,335.8 230.8,336.8 230.8,337.8 230.8,338.8 230.8,339.8 230.8,340.8 230.8,341.8 230.7,342.8 230.7,343.8 230.7,344.8 230.7,345.8 230.7,346.8 230.7,347.8 231,348.8 230.9,349.8 230.9,350.8 230.8,351.8 230.8,352.8 230.7,353.8 230.7,354.8 230.6,355.8 230.6,356.8 230.5,357.8 230,357 229.6,356.3 229,355.4 228.7,354.8 228.1,353.8 227.6,352.8 227,351.8 226.5,350.8 226,349.8 225.5,348.8 226.5,348.7 227.5,348.5 228.5,348.4 228.7,347.3 228.6,346.3 228.4,345.3 228.3,344.3 228.2,343.3 228,342.3 227.9,341.3 227.8,340.3 227.7,339.3 227.5,338.3 227.4,337.3 227.4,336.3 227.5,335.3 227.6,334.3 227.7,333.3 227.9,332.3 228,331.3 228.1,330.3 228.2,329.3 228.4,328.3 228.5,327.4 228.7,326.3 228.8,325.3 228,324.7 227,324.5 226,324.4 226,323.4 226.5,322.4 227,321.4 227.3,320.8 227.9,319.8 228.4,318.8 229,317.8 229.5,317 230,316.3ZM230.3,321.3 230,321.9 229.5,322.8 229,323.7 229.5,324.4 230.5,324.6 230.6,323.8 230.6,322.8 230.5,321.8ZM230.5,335.8 230.4,336.8 230.5,335.8ZM228.7,348.8 229,349.4 229.5,350.3 230,351.3 230.5,352.2 230.5,351.3 230.6,350.3 230.6,349.3 230.5,348.5 229.5,348.7ZM243,324.7 243.4,325.3 243.1,326.3 243,325.3ZM243,346.8 243.2,347.8 243,346.8ZM226.5,360.8 227.5,360.7 228.5,360.6 229.5,360.5 230.5,360.4 230.8,361.3 230.8,362.3 230.7,363.3 230.7,364.3 230.6,365.3 230.5,366.3 229.7,365.8 229.3,365.3 228.9,364.8 228.1,363.8 227.5,363 227,362.3 226.5,361.5 226,360.8ZM229.7,360.8 230.4,361.8 230.6,360.8Z"/>
<path fill="#00f000" fill-rule="evenodd" d="M240,301.1 241,300.8 242,300.8 242.7,301.3 242.8,302.3 242.8,303.3 242.9,304.3 243,305.3 243.9,304.8 244.4,304.3 244.9,303.8 245.4,303.3 245.9,302.8 246.4,302.3 246.9,301.8 247.4,301.3 248,300.8 249,300.8 250,300.8 251,300.8 250.5,301.8 250,302.3 249.5,302.8 249.1,303.3 248.6,303.8 248.1,304.3 247.6,304.8 247.1,305.3 246.7,305.8 246.2,306.3 245.7,306.8 245.2,307.3 244.8,307.8 244.3,308.3 243.8,308.8 243.4,309.3 242.9,308.8 242.9,307.8 242.8,306.8 242.7,305.8 242.7,304.8 242.6,303.8 242.5,302.8 241.5,303.3 241,303.8 240.5,304.3 240,304.8 239.5,305.3 239,305.8 238.5,306.3 238,306.8 237.5,307.3 237,307.8 236.6,308.3 236.1,308.8 235.6,309.3 235.2,309.8 234.7,310.3 234.3,310.8 233.8,311.3 233.4,311.8 232.9,312.3 234,312.4 235,312.5 236,312.5 237,312.6 238,312.7 237.8,313.8 237.2,314.8 236.5,315.8 236,316.6 235.5,317.3 235,318.1 234.6,318.8 234,319.7 233.6,320.3 233,321.3 232.5,322.1 232.1,322.8 231.5,323.8 232,324.4 233,324.6 234,324.7 234.5,325.2 234.3,326.3 234.1,327.3 234,328.3 233.8,329.3 233.6,330.3 233.5,331.3 233.4,332.3 233.2,333.3 233.1,334.3 233,335.3 232.8,336.3 232.9,337.3 233,338.1 233.1,339.3 233.3,340.3 233.4,341.3 233.5,342.3 233.7,343.3 233.8,344.3 234,345.3 234.2,346.3 234.3,347.3 234.5,348.3 233.5,348.5 232.5,348.6 231.5,348.8 231.7,349.8 232.3,350.8 232.9,351.8 233.5,352.8 234,353.6 234.4,354.3 235,355.2 235.4,355.8 236,356.8 236.5,357.6 236.9,358.3 237.5,359.2 237.9,359.8 237.5,360.4 236.5,360.5 235.5,360.6 234.5,360.7 233.5,360.7 233.1,361.3 233.6,361.8 234,362.3 234.4,362.8 234.9,363.3 235.3,363.8 235.8,364.3 236.2,364.8 236.7,365.3 237.1,365.8 237.6,366.3 238.1,366.8 238.5,367.3 239,367.8 239.5,368.3 240,368.8 240.5,369.3 241,369.8 241.4,370.3 241.9,370.8 242.4,371.3 242.6,370.3 242.6,369.3 242.7,368.3 242.8,367.3 242.8,366.3 242.9,365.3 243,364.3 243.8,364.8 244.3,365.3 244.7,365.8 245.2,366.3 245.6,366.8 246.1,367.3 246.6,367.8 247,368.3 247.5,368.8 248,369.3 248.4,369.8 248.9,370.3 249.4,370.8 249.9,371.3 250.3,371.8 250.8,372.3 249.5,372.3 248.5,372.3 247.5,372.3 246.8,371.8 246.3,371.3 245.8,370.8 245.4,370.3 244.9,369.8 244.4,369.3 243.9,368.8 243.4,368.3 242.9,368.8 242.9,369.8 242.8,370.8 242.7,371.8 242,372.3 241,372.3 240,372.3 239.5,371.9 239,371.4 238.5,370.9 238,370.4 237.5,369.9 237,369.4 236.5,368.9 236,368.4 235.5,367.8 235,367.3 234.5,366.8 234,366.3 233.6,365.8 233.1,365.3 232.7,364.8 232.2,364.3 231.8,363.8 231.4,363.3 230.9,363.8 230.9,364.8 230.8,365.8 230.7,366.8 230.7,367.8 230.6,368.8 230.5,369.8 229.5,369.4 229,368.9 228.5,368.4 228,367.9 227.5,367.3 227.1,366.8 226.7,366.3 226,365.4 225.5,364.8 225,364.1 224.5,363.3 224,362.5 223.5,361.8 223,360.9 224,360.7 225,360.6 226,360.6 227,360.5 228,360.4 229,360.3 228.5,359.4 228.1,358.8 227.5,357.8 227,356.9 226.6,356.3 226.1,355.3 225.5,354.3 225,353.3 224.5,352.3 224,351.3 223.6,350.3 223.1,349.3 223.5,348.7 224.5,348.6 225.5,348.4 226.1,347.8 226,347 225.9,345.8 225.7,344.8 225.6,343.8 225.5,342.9 225.4,341.8 225.3,340.8 225.1,339.8 225,338.8 224.9,337.8 224.8,336.8 224.9,335.8 225,334.8 225.1,333.8 225.2,332.8 225.3,331.8 225.4,330.8 225.6,329.8 225.7,328.8 225.8,327.8 225.9,326.8 226.1,325.8 226.2,324.8 225,324.6 224,324.5 223,324.3 223.3,323.3 223.8,322.3 224.3,321.3 224.8,320.3 225.3,319.3 225.8,318.3 226.4,317.3 227,316.3 227.5,315.4 227.9,314.8 228.5,313.9 228.9,313.3 228.5,312.7 227.5,312.7 226.5,312.6 225.5,312.5 224.5,312.4 223.5,312.3 223.6,311.3 224,310.7 224.5,309.9 224.9,309.3 225.5,308.5 226,307.9 226.4,307.3 226.9,306.8 227.3,306.3 227.7,305.8 228.2,305.3 228.7,304.8 229.2,304.3 229.7,303.8 230.2,303.3 230.6,304.3 230.7,305.3 230.7,306.3 230.8,307.3 230.9,308.3 230.9,309.3 231,310.3 231.5,309.9 232,309.3 232.5,308.8 232.9,308.3 233.4,307.8 233.9,307.3 234.4,306.8 234.9,306.3 235.3,305.8 235.8,305.3 236.3,304.8 236.8,304.3 237.3,303.8 237.9,303.3 238.4,302.8 238.9,302.3 239.4,301.8 239.9,301.3ZM230.4,306.8 230,307.3 229.5,307.8 229.1,308.3 228.7,308.8 228,309.7 227.5,310.3 227,311 226.5,311.7 226.1,312.3 227,312.4 228,312.4 229,312.5 230,312.6 230.9,312.3 230.8,311.3 230.7,310.3 230.7,309.3 230.6,308.3 230.5,307.3ZM230.6,312.8 230.7,313.8 230.7,314.8 230.8,315.8 230.8,316.8 230.9,317.8 230.9,318.8 231,319.8 231.5,319 231.9,318.3 232.5,317.4 232.9,316.8 233.5,315.9 233.9,315.3 234.5,314.4 234.9,313.8 235.5,312.9 234.5,312.7 233.5,312.6 232.5,312.5 231.5,312.4ZM230.3,315.8 229.6,316.8 229,317.8 228.5,318.7 228.2,319.3 227.6,320.3 227.1,321.3 226.5,322.3 226,323.3 225.5,324.3 226.5,324.4 227.5,324.6 228.5,324.7 228.7,325.8 228.6,326.8 228.4,327.8 228.3,328.8 228.2,329.8 228,330.8 227.9,331.8 227.8,332.8 227.7,333.8 227.6,334.8 227.4,335.8 227.4,336.8 227.5,337.8 227.6,338.8 227.7,339.8 227.8,340.8 228,341.8 228.1,342.8 228.2,343.8 228.4,344.8 228.5,345.8 228.6,346.8 228.8,347.8 228,348.4 227,348.6 226,348.7 226,349.8 226.5,350.8 227,351.8 227.5,352.7 227.8,353.3 228.4,354.3 229,355.3 229.5,356.2 229.9,356.8 230.5,357.8 230.6,356.8 230.6,355.8 230.7,354.8 230.7,353.8 230.8,352.8 230.8,351.8 230.9,350.8 230.9,349.8 231,348.8 230.7,347.8 230.7,346.8 230.7,345.8 230.7,344.8 230.7,343.8 230.7,342.8 230.8,341.8 230.8,340.8 230.8,339.8 230.8,338.8 230.8,337.8 230.8,336.8 230.8,335.8 230.8,334.8 230.8,333.8 230.8,332.8 230.8,331.8 230.7,330.8 230.7,329.8 230.7,328.8 230.7,327.8 230.7,326.8 230.7,325.8 230.7,324.8 231,323.8 230.9,322.8 230.8,321.8 230.8,320.8 230.7,319.8 230.7,318.8 230.6,317.8 230.6,316.8 230.5,315.8ZM230.9,324.8 230.9,325.8 230.9,326.8 231,327.8 231,328.8 231,329.8 231.2,328.8 231.4,327.8 231.5,327 231.7,325.8 231.9,324.8 231,324.7ZM231,343.3 231,344.3 231,345.3 231,346.3 230.9,347.3 230.9,348.3 231.8,348.3 231.7,347.3 231.5,346.3 231.3,345.3 231.2,344.3 231,343.3ZM231,353.8 230.9,354.8 230.9,355.8 230.8,356.8 230.8,357.8 230.7,358.8 230.6,359.8 231,360.7 232,360.6 233,360.5 234,360.4 235,360.3 234.7,359.3 234.1,358.3 233.5,357.4 233.1,356.8 232.5,355.9 232.2,355.3 231.5,354.3 231,353.4ZM226,360.8 226.5,361.5 227,362.3 227.4,362.8 228,363.6 228.5,364.3 229,364.9 229.5,365.5 230,366.1 230.5,366.7 230.6,365.8 230.6,364.8 230.7,363.8 230.7,362.8 230.8,361.8 230.9,360.8 230,360.5 229,360.6 228,360.6 227,360.7ZM255,301 256,300.8 257,300.8 258,300.8 258.4,301.3 258,301.8 257.6,302.3 257.2,302.8 256.7,303.3 256.3,303.8 255.8,304.3 255.4,304.8 254.9,304.3 254.9,303.3 254.8,302.3 254.8,301.3ZM218.5,308.6 218.5,309.8 218.6,310.8 218.6,311.8 218,312.4 217.4,311.8 217.7,310.8 218,309.8 218.4,308.8ZM243,312.6 244,312.7 244.5,313.2 244.1,313.8 243.5,314.6 243.1,315.3 242.9,314.3 242.9,313.3ZM218.5,321.8 218.5,322.8 218.6,323.8 218,324.4 218,323.4 218.3,322.3ZM218,348.7 218.6,349.3 218.5,350.3 218.5,351.2 218.2,350.3 217.9,349.3ZM243,358.1 243.4,358.8 244,359.7 244.4,360.3 243.5,360.4 242.9,359.8 243,358.8ZM217.5,360.8 218.5,360.7 218.6,361.8 218.6,362.8 218.5,363.8 218.1,363.3 217.7,362.3 217.5,361.6 217.3,360.8ZM255,368.6 255.5,369.2 256,369.8 256.5,370.3 256.9,370.8 257.3,371.3 257.8,371.8 258.2,372.3 257,372.3 256,372.3 255,372.3 254.8,371.3 254.9,370.3 255,369.3Z"/>
<path fill="#ffff00" fill-rule="evenodd" d="M207,300.8 208,300.8 209,300.8 210,300.8 211,300.8 212,300.8 213,300.8 214,300.8 215,300.8 216,300.8 217,300.8 218,300.8 219,300.8 220,300.8 221,300.8 222,300.8 223,300.8 224,300.8 225,300.8 226,300.8 227,300.8 228,300.8 229,300.8 230,300.8 231,300.8 232,300.8 233,300.8 234,300.8 235,300.8 236,300.8 237,300.8 238,300.8 239,300.8 240,300.8 239.5,301.7 239,302.2 238.5,302.7 238,303.2 237.5,303.6 237,304.1 236.5,304.6 236,305.1 235.5,305.6 235,306.2 234.5,306.7 234,307.2 233.5,307.7 233,308.2 232.5,308.8 232,309.3 231.6,309.8 231.2,310.3 230.9,309.3 230.9,308.3 230.8,307.3 230.7,306.3 230.7,305.3 230.6,304.3 230.5,303.3 229.7,303.8 229.2,304.3 228.7,304.8 228.2,305.3 227.7,305.8 227.3,306.3 226.9,306.8 226.4,307.3 226,307.9 225.5,308.5 225,309.2 224.6,309.8 224,310.7 223.6,311.3 223,312.3 224,312.4 225,312.5 226,312.5 227,312.6 228,312.7 229,312.8 228.6,313.8 228,314.7 227.6,315.3 227,316.3 226.5,317.1 226.1,317.8 225.6,318.8 225,319.8 224.5,320.8 224,321.8 223.6,322.8 223.1,323.8 223.5,324.4 224.5,324.5 225.5,324.7 226.1,325.3 226,326.2 225.9,327.3 225.7,328.3 225.6,329.3 225.5,330.3 225.4,331.3 225.3,332.3 225.1,333.3 225,334.3 224.9,335.3 224.8,336.3 224.9,337.3 225,338.3 225.1,339.3 225.2,340.3 225.3,341.3 225.4,342.3 225.6,343.3 225.7,344.3 225.8,345.3 225.9,346.3 226,347.3 226.2,348.3 225,348.5 224,348.6 223,348.8 223.3,349.8 223.8,350.8 224.3,351.8 224.8,352.8 225.3,353.8 225.8,354.8 226.4,355.8 226.9,356.8 227.5,357.8 228,358.6 228.5,359.3 229,360.1 228,360.4 227,360.5 226,360.6 225,360.6 224,360.7 223,360.8 223.5,361.7 223.9,362.3 224.5,363.3 225,364.1 225.5,364.8 225.9,365.3 226.5,366.1 227,366.7 227.5,367.3 227.9,367.8 228.4,368.3 228.9,368.8 229.4,369.3 229.9,369.8 230.4,370.3 230.6,369.3 230.6,368.3 230.7,367.3 230.8,366.3 230.8,365.3 230.9,364.3 231,363.3 231.8,363.8 232.2,364.3 232.7,364.8 233.1,365.3 233.6,365.8 234,366.3 234.5,366.8 235,367.3 235.5,367.8 235.9,368.3 236.4,368.8 236.9,369.3 237.4,369.8 237.9,370.3 238.4,370.8 238.9,371.3 239.4,371.8 239.9,372.3 239,372.3 238,372.3 237,372.3 236,372.3 235,372.3 234,372.3 233,372.3 232,372.3 231,372.3 230,372.3 229,372.3 228,372.3 227,372.3 226,372.3 225,372.3 224,372.3 223,372.3 222,372.3 221,372.3 220,372.3 219,372.3 218,372.3 217,372.3 216,372.3 215,372.3 214,372.3 213,372.3 212,372.3 211,372.3 210,372.3 209,372.3 208,372.3 207,372.3 206.5,371.8 206.5,370.8 206.5,369.8 206.5,368.8 206.5,367.8 206.5,366.9 207,365.8 207.3,364.8 207.5,363.9 207.8,362.8 208,361.8 208.2,360.8 208.4,359.8 208.5,358.9 208.7,357.8 208.8,356.8 209,355.8 209.1,354.8 209.2,353.8 209.3,352.8 209.4,351.8 209.5,350.8 209.6,349.8 209.7,348.8 209.8,347.8 209.8,346.8 209.9,345.8 209.9,344.8 210,343.8 210,342.8 210.1,341.8 210.1,340.8 210.1,339.8 210.1,338.8 210.1,337.8 210.1,336.8 210.1,335.8 210.1,334.8 210.1,333.8 210.1,332.8 210,331.8 210,330.8 210,329.8 209.9,328.8 209.9,327.8 209.8,326.8 209.7,325.8 209.7,324.8 209.6,323.8 209.5,322.9 209.4,321.8 209.3,320.8 209.2,319.8 209,318.8 208.9,317.8 208.8,316.8 208.6,315.8 208.5,314.8 208.3,313.8 208.1,312.8 207.9,311.8 207.7,310.8 207.4,309.8 207.2,308.8 206.8,307.8 206.5,307.1 206.5,305.8 206.5,304.8 206.5,303.8 206.5,302.8 206.5,301.8 206.5,300.8ZM218.4,308.8 218,309.8 217.7,310.8 217.4,311.8 218,312.4 218.6,311.8 218.6,310.8 218.5,309.8 218.5,308.8ZM218.5,321.8 218.2,322.8 217.9,323.8 218.5,324.5 218.6,323.3 218.5,322.3ZM217.8,348.8 218,349.6 218.4,350.8 218.6,349.8 218.6,348.8ZM217.3,360.8 217.5,361.6 217.7,362.3 218,363.2 218.4,364.3 218.5,363.3 218.6,362.3 218.6,361.3 218,360.7ZM243,300.8 244,300.8 245,300.8 246,300.8 247,300.8 247,301.7 246.5,302.2 246,302.7 245.5,303.2 245,303.7 244.5,304.2 244,304.7 243.5,305.3 243,305.8 242.9,304.8 242.9,303.8 242.8,302.8 242.7,301.8 242.7,300.8ZM231,312.4 232,312.5 233,312.6 234,312.7 235,312.7 235,313.6 234.6,314.3 234,315.1 233.6,315.8 233,316.7 232.6,317.3 232,318.2 231.6,318.8 231,319.8 230.9,318.8 230.9,317.8 230.8,316.8 230.8,315.8 230.7,314.8 230.7,313.8 230.6,312.8ZM231,324.7 231.9,324.8 231.7,325.8 231.5,326.8 231.4,327.8 231.2,328.8 231.1,329.8 231,328.8 231,327.8 230.9,326.8 230.9,325.8 230.9,324.8ZM231,343 231.1,343.8 231.3,344.8 231.4,345.8 231.6,346.8 231.7,347.8 231,348.4 230.9,347.3 231,346.3 231,345.3 231,344.3 231,343.3ZM231,353.4 231.5,354.3 232,355.1 232.5,355.8 233,356.6 233.4,357.3 234,358.2 234.4,358.8 235,359.7 235.4,360.3 234.5,360.4 233.5,360.5 232.5,360.6 231.5,360.6 230.6,360.3 230.7,359.3 230.7,358.3 230.8,357.3 230.8,356.3 230.9,355.3 231,354.3ZM243,367.8 243.5,368.4 244,368.9 244.5,369.4 245,369.9 245.5,370.5 246,371 246.5,371.5 247,372 246,372.3 245,372.3 244,372.3 243,372.3 242.8,371.3 242.8,370.3 242.9,369.3 243,368.3Z"/>
<path fill="#ff9900" fill-rule="evenodd" d="M206.6,307.3 207,308.2 207.3,309.3 207.5,310.1 207.8,311.3 208,312.3 208.2,313.3 208.4,314.3 208.5,315.3 208.7,316.3 208.8,317.3 209,318.3 209.1,319.3 209.2,320.3 209.3,321.3 209.4,322.3 209.5,323.3 209.6,324.3 209.7,325.3 209.8,326.3 209.8,327.3 209.9,328.3 209.9,329.3 210,330.3 210,331.3 210.1,332.3 210.1,333.3 210.1,334.3 210.1,335.3 210.1,336.3 210.1,337.3 210.1,338.3 210.1,339.3 210.1,340.3 210.1,341.3 210,342.3 210,343.3 210,344.3 209.9,345.3 209.9,346.3 209.8,347.3 209.7,348.3 209.7,349.3 209.6,350.3 209.5,351.3 209.4,352.3 209.3,353.3 209.2,354.3 209,355.3 208.9,356.3 208.8,357.3 208.6,358.3 208.4,359.3 208.3,360.3 208.1,361.3 207.9,362.3 207.6,363.3 207.4,364.3 207.2,365.3 206.8,366.3 206.5,365.3 206.5,364.3 206.5,363.3 206.5,362.3 206.5,361.3 206.5,360.3 206.5,359.3 206.5,358.3 206.6,357.3 206.9,356.3 207.1,355.3 207.2,354.3 207.3,353.3 207.4,352.3 207.5,351.5 207.6,350.3 207.7,349.3 207.8,348.3 207.9,347.3 207.9,346.3 208,345.3 208,344.3 208.1,343.3 208.1,342.3 208.2,341.3 208.2,340.3 208.2,339.3 208.2,338.3 208.2,337.3 208.2,336.3 208.2,335.3 208.2,334.3 208.2,333.3 208.1,332.3 208.1,331.3 208.1,330.3 208,329.3 208,328.3 207.9,327.3 207.8,326.3 207.8,325.3 207.7,324.3 207.6,323.3 207.5,322.3 207.4,321.3 207.3,320.3 207.1,319.3 207,318.3 206.8,317.3 206.6,316.3 206.5,315.3 206.5,314.3 206.5,313.3 206.5,312.3 206.5,311.3 206.5,310.3 206.5,309.3 206.5,308.3 206.5,307.3Z"/>
<path fill="#ff2000" fill-rule="evenodd" d="M206.6,316.3 206.8,317.3 207,318.3 207.1,319.3 207.3,320.3 207.4,321.3 207.5,322.3 207.6,323.3 207.7,324.3 207.8,325.3 207.8,326.3 207.9,327.3 208,328.3 208,329.3 208.1,330.3 208.1,331.3 208.1,332.3 208.2,333.3 208.2,334.3 208.2,335.3 208.2,336.3 208.2,337.3 208.2,338.3 208.2,339.3 208.2,340.3 208.2,341.3 208.1,342.3 208.1,343.3 208,344.3 208,345.3 207.9,346.3 207.9,347.3 207.8,348.3 207.7,349.3 207.6,350.3 207.5,351.3 207.4,352.3 207.3,353.3 207.2,354.3 207.1,355.3 206.9,356.3 206.6,357.3 206.5,356.3 206.5,355.3 206.5,354.3 206.5,353.3 206.5,352.3 206.5,351.3 206.5,350.3 206.5,349.3 206.5,348.3 206.5,347.3 206.5,346.3 206.5,345.3 206.5,344.3 206.5,343.3 206.5,342.3 206.5,341.3 206.5,340.3 206.5,339.3 206.5,338.3 206.5,337.3 206.5,336.3 206.5,335.3 206.5,334.3 206.5,333.3 206.5,332.3 206.5,331.3 206.5,330.3 206.5,329.3 206.5,328.3 206.5,327.3 206.5,326.3 206.5,325.3 206.5,324.3 206.5,323.3 206.5,322.3 206.5,321.3 206.5,320.3 206.5,319.3 206.5,318.3 206.5,317.3 206.5,316.3Z"/>
<path fill="#00b4ff" d="M254.8,324.6 l3.2,0 l-3.2,3.4 l-3.6,0Z"/>
<path fill="#0060ff" d="M254.8,324.6 l1.6,0 l-1.6,2 l-2,0Z"/>
<path fill="#00b4ff" d="M254.8,348.5 l3.2,0 l-3.2,-3.4 l-3.6,0Z"/>
<path fill="#0060ff" d="M254.8,348.5 l1.6,0 l-1.6,-2 l-2,0Z"/>
<path fill="#00d8ff" d="M254.8,331.1 l-1.7,5.5 l1.7,5.5 l1.7,-5.5Z"/>
<path fill="#00b4ff" d="M266.9,324.6 l3.2,0 l-3.2,3.4 l-3.6,0Z"/>
<path fill="#0060ff" d="M266.9,324.6 l1.6,0 l-1.6,2 l-2,0Z"/>
<path fill="#00b4ff" d="M266.9,348.5 l3.2,0 l-3.2,-3.4 l-3.6,0Z"/>
<path fill="#0060ff" d="M266.9,348.5 l1.6,0 l-1.6,-2 l-2,0Z"/>
<path fill="#00d8ff" d="M266.9,331.1 l-1.7,5.5 l1.7,5.5 l1.7,-5.5Z"/>
</g><path fill="#ff9900" d="M207,313.6 C201,314 198.2,317 197.6,324 L197.4,350 C198,356 201,358.6 207,359.2Z"/><rect x="206.5" y="311.7" width="4.3" height="48.3" fill="#ff9900"/><rect x="206.7" y="323.8" width="2.3" height="26" fill="#ff1010"/><rect x="218.2" y="313" width="0.8" height="48" fill="#ffb000"/>
</g>
<path d="M134.6,173.5 A163.5,163.5 0 0 1 134.6,500.5" fill="none" stroke="#8a6a70" stroke-width="0.9"/>
<path d="M134.6,104 A233,233 0 0 1 134.6,570 Z" fill="none" stroke="#3a3a60" stroke-width="0.8"/>
<line x1="134.6" y1="104" x2="134.6" y2="445" stroke="#5a5a5a" stroke-width="1.2"/>
<rect x="206.5" y="300.8" width="72.5" height="71.5" fill="none" stroke="#707070" stroke-width="1"/>
<path d="M134.3,337 C132.4,322 129.4,300 134.3,283 C139.2,300 136.2,322 134.3,337Z" fill="#2f8a3a"/>
<path d="M134.6,337 C152.6,335.8 176.6,333 190.6,337 C176.6,340.8 152.6,338.2 134.6,337Z" fill="#d42828"/>
<circle cx="134.3" cy="337" r="2.4" fill="#1030e0"/>
<text x="139.6" y="279" font-size="13" style="fill:#3f8f3f">YC</text>
<text x="136.6" y="337" font-size="13" style="fill:#2040e0">ZC</text>
<text x="176.6" y="332.3" font-size="13" style="fill:#c83030">XC</text>
<defs><clipPath id="cR"><rect x="625.5" y="95" width="260" height="347"/></clipPath></defs>
<path d="M628.5,173.5 A163.5,163.5 0 0 1 628.5,500.5" fill="none" stroke="#555" stroke-width="0.9"/>
<path d="M628.5,104 A233,233 0 0 1 628.5,570 Z" fill="none" stroke="#555" stroke-width="0.9"/>
<line x1="628.5" y1="104" x2="628.5" y2="445" stroke="#555" stroke-width="1.1"/>
<rect x="700.4" y="300.8" width="72.5" height="71.5" fill="none" stroke="#9a9a9a" stroke-width="1.4"/>
<g clip-path="url(#cR)"><g fill="none" stroke-width="1.3" stroke-linecap="butt"><circle cx="769.8" cy="435.9" r="1.2" fill="#1020ff" opacity="1"/>
<circle cx="777.9" cy="423.2" r="1.2" fill="#1020ff" opacity="1"/>
<circle cx="784.8" cy="409.9" r="1.2" fill="#1020ff" opacity="1"/>
<circle cx="790.6" cy="396" r="1.2" fill="#1020ff" opacity="1"/>
<circle cx="795.1" cy="381.6" r="1.2" fill="#1020ff" opacity="1"/>
<circle cx="798.4" cy="367" r="1.2" fill="#1020ff" opacity="1"/>
<circle cx="800.3" cy="352" r="1.2" fill="#1020ff" opacity="1"/>
<circle cx="801" cy="337" r="1.2" fill="#1020ff" opacity="1"/>
<circle cx="800.3" cy="322" r="1.2" fill="#1020ff" opacity="1"/>
<circle cx="798.4" cy="307" r="1.2" fill="#1020ff" opacity="1"/>
<circle cx="795.1" cy="292.4" r="1.2" fill="#1020ff" opacity="1"/>
<circle cx="790.6" cy="278" r="1.2" fill="#1020ff" opacity="1"/>
<circle cx="784.8" cy="264.1" r="1.2" fill="#1020ff" opacity="1"/>
<circle cx="777.9" cy="250.8" r="1.2" fill="#1020ff" opacity="1"/>
<circle cx="769.8" cy="238.1" r="1.2" fill="#1020ff" opacity="1"/>
<circle cx="760.6" cy="226.1" r="1.2" fill="#1020ff" opacity="1"/>
<circle cx="750.5" cy="215" r="1.2" fill="#1020ff" opacity="1"/>
<circle cx="739.4" cy="204.9" r="1.2" fill="#1020ff" opacity="1"/>
<circle cx="727.4" cy="195.7" r="1.2" fill="#1020ff" opacity="1"/>
<circle cx="714.8" cy="187.6" r="1.2" fill="#1020ff" opacity="1"/>
<circle cx="701.4" cy="180.7" r="1.2" fill="#1020ff" opacity="1"/>
<circle cx="687.5" cy="174.9" r="1.2" fill="#1020ff" opacity="1"/>
<circle cx="673.1" cy="170.4" r="1.2" fill="#1020ff" opacity="1"/>
<circle cx="658.5" cy="167.1" r="1.2" fill="#1020ff" opacity="1"/>
<circle cx="643.5" cy="165.2" r="1.2" fill="#1020ff" opacity="1"/>
<circle cx="628.5" cy="164.5" r="1.2" fill="#1020ff" opacity="1"/>
<circle cx="779.9" cy="440.7" r="0.9" fill="#3040ff" opacity="0.6"/>
<circle cx="788.8" cy="426.3" r="0.9" fill="#3040ff" opacity="0.6"/>
<circle cx="796.4" cy="411.1" r="0.9" fill="#3040ff" opacity="0.6"/>
<circle cx="802.5" cy="395.3" r="0.9" fill="#3040ff" opacity="0.6"/>
<circle cx="807.1" cy="379" r="0.9" fill="#3040ff" opacity="0.6"/>
<circle cx="810.2" cy="362.4" r="0.9" fill="#3040ff" opacity="0.6"/>
<circle cx="811.8" cy="345.5" r="0.9" fill="#3040ff" opacity="0.6"/>
<circle cx="811.8" cy="328.5" r="0.9" fill="#3040ff" opacity="0.6"/>
<circle cx="810.2" cy="311.6" r="0.9" fill="#3040ff" opacity="0.6"/>
<circle cx="807.1" cy="295" r="0.9" fill="#3040ff" opacity="0.6"/>
<circle cx="802.5" cy="278.7" r="0.9" fill="#3040ff" opacity="0.6"/>
<circle cx="796.4" cy="262.9" r="0.9" fill="#3040ff" opacity="0.6"/>
<circle cx="788.8" cy="247.7" r="0.9" fill="#3040ff" opacity="0.6"/>
<circle cx="779.9" cy="233.3" r="0.9" fill="#3040ff" opacity="0.6"/>
<circle cx="769.7" cy="219.8" r="0.9" fill="#3040ff" opacity="0.6"/>
<circle cx="758.3" cy="207.2" r="0.9" fill="#3040ff" opacity="0.6"/>
<circle cx="745.7" cy="195.8" r="0.9" fill="#3040ff" opacity="0.6"/>
<circle cx="732.2" cy="185.6" r="0.9" fill="#3040ff" opacity="0.6"/>
<circle cx="717.8" cy="176.7" r="0.9" fill="#3040ff" opacity="0.6"/>
<circle cx="702.6" cy="169.1" r="0.9" fill="#3040ff" opacity="0.6"/>
<circle cx="686.8" cy="163" r="0.9" fill="#3040ff" opacity="0.6"/>
<circle cx="670.5" cy="158.4" r="0.9" fill="#3040ff" opacity="0.6"/>
<circle cx="653.9" cy="155.3" r="0.9" fill="#3040ff" opacity="0.6"/>
<circle cx="637" cy="153.7" r="0.9" fill="#3040ff" opacity="0.6"/>
<circle cx="797.4" cy="443.1" r="0.8" fill="#6070ff" opacity="0.32"/>
<circle cx="808.2" cy="423.6" r="0.8" fill="#6070ff" opacity="0.32"/>
<circle cx="816.8" cy="402.9" r="0.8" fill="#6070ff" opacity="0.32"/>
<circle cx="823" cy="381.4" r="0.8" fill="#6070ff" opacity="0.32"/>
<circle cx="826.7" cy="359.3" r="0.8" fill="#6070ff" opacity="0.32"/>
<circle cx="828" cy="337" r="0.8" fill="#6070ff" opacity="0.32"/>
<circle cx="826.7" cy="314.7" r="0.8" fill="#6070ff" opacity="0.32"/>
<circle cx="823" cy="292.6" r="0.8" fill="#6070ff" opacity="0.32"/>
<circle cx="816.8" cy="271.1" r="0.8" fill="#6070ff" opacity="0.32"/>
<circle cx="808.2" cy="250.4" r="0.8" fill="#6070ff" opacity="0.32"/>
<circle cx="797.4" cy="230.9" r="0.8" fill="#6070ff" opacity="0.32"/>
<circle cx="784.5" cy="212.6" r="0.8" fill="#6070ff" opacity="0.32"/>
<circle cx="769.6" cy="195.9" r="0.8" fill="#6070ff" opacity="0.32"/>
<circle cx="752.9" cy="181" r="0.8" fill="#6070ff" opacity="0.32"/>
<circle cx="734.6" cy="168.1" r="0.8" fill="#6070ff" opacity="0.32"/>
<circle cx="715.1" cy="157.3" r="0.8" fill="#6070ff" opacity="0.32"/>
<circle cx="694.4" cy="148.7" r="0.8" fill="#6070ff" opacity="0.32"/>
<circle cx="672.9" cy="142.5" r="0.8" fill="#6070ff" opacity="0.32"/>
<circle cx="650.8" cy="138.8" r="0.8" fill="#6070ff" opacity="0.32"/>
<circle cx="628.5" cy="137.5" r="0.8" fill="#6070ff" opacity="0.32"/>
<circle cx="829.8" cy="424.4" r="0.8" fill="#8090ff" opacity="0.18"/>
<circle cx="839.9" cy="396.2" r="0.8" fill="#8090ff" opacity="0.18"/>
<circle cx="846" cy="366.9" r="0.8" fill="#8090ff" opacity="0.18"/>
<circle cx="848" cy="337" r="0.8" fill="#8090ff" opacity="0.18"/>
<circle cx="846" cy="307.1" r="0.8" fill="#8090ff" opacity="0.18"/>
<circle cx="839.9" cy="277.8" r="0.8" fill="#8090ff" opacity="0.18"/>
<circle cx="829.8" cy="249.6" r="0.8" fill="#8090ff" opacity="0.18"/>
<circle cx="816" cy="223" r="0.8" fill="#8090ff" opacity="0.18"/>
<circle cx="798.8" cy="198.5" r="0.8" fill="#8090ff" opacity="0.18"/>
<circle cx="778.3" cy="176.6" r="0.8" fill="#8090ff" opacity="0.18"/>
<circle cx="755.1" cy="157.7" r="0.8" fill="#8090ff" opacity="0.18"/>
<circle cx="729.5" cy="142.1" r="0.8" fill="#8090ff" opacity="0.18"/>
<circle cx="702" cy="130.2" r="0.8" fill="#8090ff" opacity="0.18"/>
<circle cx="673.2" cy="122.1" r="0.8" fill="#8090ff" opacity="0.18"/>
<circle cx="643.5" cy="118" r="0.8" fill="#8090ff" opacity="0.18"/>
<path d="M861.3,333 l0,4.5" stroke="#1020ff" stroke-width="1.8"/>
<path d="M763.6,331.6 L760.8,336.6 M760.8,336.6 L762.3,333.2 M760.8,336.6 L763,333.6" stroke="#0000ff" stroke-width="1.55"/>
<path d="M757.4,331.7 L760.8,336.6 M760.8,336.6 L758.3,333.6 M760.8,336.6 L758.9,333.2" stroke="#0000ff" stroke-width="1.55"/>
<path d="M753.9,333 L748.7,336.6 M748.7,336.6 L751.8,333.9 M748.7,336.6 L752.3,334.6" stroke="#0000ff" stroke-width="1.55"/>
<path d="M743.1,333.4 L748.7,336.6 M748.7,336.6 L744.9,334.9 M748.7,336.6 L745.3,334.1" stroke="#0000ff" stroke-width="1.55"/>
<path d="M765.5,343.8 L760.8,348.5 M760.8,348.5 L763.5,345.2 M760.8,348.5 L764.2,345.8" stroke="#0000ff" stroke-width="1.55"/>
<path d="M755.6,320.1 L760.8,324.6 M760.8,324.6 L757.1,322.1 M760.8,324.6 L757.8,321.4" stroke="#0000ff" stroke-width="1.55"/>
<path d="M755.3,345.9 L748.7,348.5 M748.7,348.5 L752.8,346.4 M748.7,348.5 L753.2,347.3" stroke="#0000ff" stroke-width="1.55"/>
<path d="M741.8,322.3 L748.7,324.6 M748.7,324.6 L744.1,323.6 M748.7,324.6 L744.4,322.7" stroke="#0000ff" stroke-width="1.55"/>
<path d="M628.5,176.4 L628.5,173.5" stroke="#0000ff" stroke-width="1.8"/>
<path d="M641.1,176.9 L641.3,174" stroke="#0000ff" stroke-width="1.8"/>
<path d="M653.6,178.4 L654.1,175.5" stroke="#0000ff" stroke-width="1.8"/>
<path d="M666,180.9 L666.7,178" stroke="#0000ff" stroke-width="1.8"/>
<path d="M678.1,184.3 L679,181.5" stroke="#0000ff" stroke-width="1.8"/>
<path d="M689.9,188.7 L691.1,185.9" stroke="#0000ff" stroke-width="1.8"/>
<path d="M701.2,194 L702.7,191.3" stroke="#0000ff" stroke-width="1.8"/>
<path d="M712.2,200.2 L713.9,197.6" stroke="#0000ff" stroke-width="1.8"/>
<path d="M722.5,207.2 L724.6,204.7" stroke="#0000ff" stroke-width="1.8"/>
<path d="M732.3,215 L734.7,212.7" stroke="#0000ff" stroke-width="1.8"/>
<path d="M633.5,189.5 L633.7,186.1" stroke="#0000ff" stroke-width="1.8"/>
<path d="M643.6,190.2 L643.9,186.8" stroke="#0000ff" stroke-width="1.8"/>
<path d="M653.6,191.6 L654.1,188.2" stroke="#0000ff" stroke-width="1.8"/>
<path d="M663.4,193.7 L664.2,190.3" stroke="#0000ff" stroke-width="1.8"/>
<path d="M741.4,223.6 L744.1,221.4" stroke="#0000ff" stroke-width="1.8"/>
<path d="M673.1,196.4 L674.2,193.1" stroke="#0000ff" stroke-width="1.8"/>
<path d="M682.6,199.9 L683.9,196.6" stroke="#0000ff" stroke-width="1.8"/>
<path d="M691.8,203.9 L693.3,200.7" stroke="#0000ff" stroke-width="1.8"/>
<path d="M749.8,232.7 L752.8,230.8" stroke="#0000ff" stroke-width="1.8"/>
<path d="M755.9,445.1 L752.8,443.2" stroke="#0000ff" stroke-width="1.8"/>
<path d="M700.6,208.6 L702.5,205.4" stroke="#0000ff" stroke-width="1.8"/>
<path d="M757.3,242.5 L760.8,240.9" stroke="#0000ff" stroke-width="1.8"/>
<path d="M764.2,434.7 L760.8,433.1" stroke="#0000ff" stroke-width="1.8"/>
<path d="M709.2,213.9 L711.3,210.8" stroke="#0000ff" stroke-width="1.8"/>
<path d="M717.3,219.8 L719.7,216.7" stroke="#0000ff" stroke-width="1.8"/>
<path d="M771.7,423.6 L767.9,422.4" stroke="#0000ff" stroke-width="1.8"/>
<path d="M764.1,252.7 L767.9,251.6" stroke="#0000ff" stroke-width="1.8"/>
<path d="M628.5,202.6 L628.5,198.6" stroke="#0000ff" stroke-width="1.8"/>
<path d="M638.6,203 L638.8,199" stroke="#0000ff" stroke-width="1.8"/>
<path d="M648.6,204.1 L649.1,200.1" stroke="#0000ff" stroke-width="1.8"/>
<path d="M658.5,206 L659.3,202.1" stroke="#0000ff" stroke-width="1.8"/>
<path d="M724.9,226.2 L727.7,223.2" stroke="#0000ff" stroke-width="1.8"/>
<path d="M668.2,208.7 L669.3,204.7" stroke="#0000ff" stroke-width="1.8"/>
<path d="M770,263.3 L774.2,262.8" stroke="#0000ff" stroke-width="1.8"/>
<path d="M778.3,411.8 L774.2,411.2" stroke="#0000ff" stroke-width="1.8"/>
<path d="M677.6,212.1 L679.1,208.2" stroke="#0000ff" stroke-width="1.8"/>
<path d="M732.1,233.1 L735.2,230.3" stroke="#0000ff" stroke-width="1.8"/>
<path d="M738.4,446.5 L735.2,443.7" stroke="#0000ff" stroke-width="1.8"/>
<path d="M762.5,327.5 L760.8,336.6 M760.8,336.6 L761.3,330.6 M760.8,336.6 L762.5,330.8" stroke="#0000ff"/>
<path d="M686.8,216.2 L688.5,212.3" stroke="#0000ff" stroke-width="1.8"/>
<path d="M758.8,327.5 L760.8,336.6 M760.8,336.6 L758.9,330.8 M760.8,336.6 L760.1,330.5" stroke="#0000ff"/>
<path d="M738.7,240.4 L742.3,237.8" stroke="#0000ff" stroke-width="1.8"/>
<path d="M745.8,438.8 L742.3,436.2" stroke="#0000ff" stroke-width="1.8"/>
<path d="M695.6,221 L697.7,217.1" stroke="#0000ff" stroke-width="1.8"/>
<path d="M775.1,274.2 L779.6,274.4" stroke="#0000ff" stroke-width="1.8"/>
<path d="M784,399.3 L779.6,399.6" stroke="#0000ff" stroke-width="1.8"/>
<path d="M763.7,339.5 L760.8,348.5 M760.8,348.5 L762.1,342.4 M760.8,348.5 L763.3,342.8" stroke="#0000ff"/>
<path d="M757.5,315.7 L760.8,324.6 M760.8,324.6 L758.1,319.1 M760.8,324.6 L759.3,318.6" stroke="#0000ff"/>
<path d="M792,332.4 L792,337 M792,337 L791.8,335.4 M792,337 L792.2,335.4" stroke="#0000ff" stroke-width="1.8"/>
<path d="M704,226.5 L706.5,222.6 M706.5,222.6 L705.8,224.1 M706.5,222.6 L705.4,223.9" stroke="#0000ff" stroke-width="1.8"/>
<path d="M790,319.8 L791.5,324.2 M791.5,324.2 L790.8,322.7 M791.5,324.2 L791.2,322.6" stroke="#0000ff" stroke-width="1.8"/>
<path d="M793,345.4 L791.5,349.8 M791.5,349.8 L791.8,348.2 M791.5,349.8 L792.2,348.4" stroke="#0000ff" stroke-width="1.8"/>
<path d="M769.9,345.1 L760.8,348.5 M760.8,348.5 L766.4,345.7 M760.8,348.5 L766.9,346.9" stroke="#0000ff"/>
<path d="M744.8,248.1 L748.8,245.8 M748.8,245.8 L747.5,246.8 M748.8,245.8 L747.3,246.4" stroke="#0000ff" stroke-width="1.8"/>
<path d="M752.8,430.6 L748.8,428.2 M748.8,428.2 L750.3,428.8 M748.8,428.2 L750,429.2" stroke="#0000ff" stroke-width="1.8"/>
<path d="M788.5,386.1 L784,387.5 M784,387.5 L785.5,386.8 M784,387.5 L785.6,387.3" stroke="#0000ff" stroke-width="1.8"/>
<path d="M779.5,285.1 L784,286.5 M784,286.5 L782.4,286.2 M784,286.5 L782.5,285.8" stroke="#0000ff" stroke-width="1.8"/>
<path d="M633.5,216 L633.7,211.3 M633.7,211.3 L633.9,212.9 M633.7,211.3 L633.4,212.9" stroke="#0000ff" stroke-width="1.8"/>
<path d="M643.6,216.8 L644.1,212.1 M644.1,212.1 L644.1,213.8 M644.1,212.1 L643.7,213.7" stroke="#0000ff" stroke-width="1.8"/>
<path d="M792.9,358.8 L790,362.6 M790,362.6 L790.8,361.1 M790,362.6 L791.2,361.4" stroke="#0000ff" stroke-width="1.8"/>
<path d="M787.1,307.6 L790,311.4 M790,311.4 L788.8,310.2 M790,311.4 L789.2,310" stroke="#0000ff" stroke-width="1.8"/>
<path d="M711.9,232.6 L714.8,228.8 M714.8,228.8 L714,230.3 M714.8,228.8 L713.6,230" stroke="#0000ff" stroke-width="1.8"/>
<path d="M653.5,218.5 L654.3,213.8 M654.3,213.8 L654.3,215.5 M654.3,213.8 L653.8,215.4" stroke="#0000ff" stroke-width="1.8"/>
<path d="M791.5,372.5 L787.5,375.2 M787.5,375.2 L788.7,374 M787.5,375.2 L789,374.4" stroke="#0000ff" stroke-width="1.8"/>
<path d="M783.5,296.1 L787.5,298.8 M787.5,298.8 L786,298.1 M787.5,298.8 L786.2,297.7" stroke="#0000ff" stroke-width="1.8"/>
<path d="M663.2,221.1 L664.4,216.4 M664.4,216.4 L664.2,218.1 M664.4,216.4 L663.8,218" stroke="#0000ff" stroke-width="1.8"/>
<path d="M759.2,421.8 L754.7,419.8 M754.7,419.8 L756.4,420.3 M754.7,419.8 L756.2,420.7" stroke="#0000ff" stroke-width="1.8"/>
<path d="M750.3,256.2 L754.7,254.2 M754.7,254.2 L753.3,255.1 M754.7,254.2 L753.1,254.7" stroke="#0000ff" stroke-width="1.8"/>
<path d="M751.4,321.4 L760.8,324.6 M760.8,324.6 L754.5,323.2 M760.8,324.6 L754.9,321.9" stroke="#0000ff"/>
<path d="M758.7,347.3 L748.7,348.5 M748.7,348.5 L755.1,347 M748.7,348.5 L755.3,348.4" stroke="#0000ff"/>
<path d="M672.7,224.5 L674.2,219.8 M674.2,219.8 L673.9,221.5 M674.2,219.8 L673.5,221.3" stroke="#0000ff" stroke-width="1.55"/>
<path d="M726,442.2 L722.6,438.5 M722.6,438.5 L724,439.6 M722.6,438.5 L723.6,439.9" stroke="#0000ff" stroke-width="1.55"/>
<path d="M719.2,239.2 L722.6,235.5 M722.6,235.5 L721.6,237 M722.6,235.5 L721.3,236.7" stroke="#0000ff" stroke-width="1.55"/>
<path d="M753,345.8 L748.7,336.6 M748.7,336.6 L752.1,342.2 M748.7,336.6 L750.8,342.8" stroke="#0000ff"/>
<path d="M743.7,345.5 L748.7,336.6 M748.7,336.6 L746.1,342.7 M748.7,336.6 L744.9,342" stroke="#0000ff"/>
<path d="M681.8,228.7 L683.8,223.9 M683.8,223.9 L683.3,225.7 M683.8,223.9 L682.9,225.5" stroke="#0000ff" stroke-width="1.55"/>
<path d="M780.1,337 L779.4,342.2 M779.4,342.2 L779.4,340.3 M779.4,342.2 L779.9,340.4" stroke="#0000ff" stroke-width="1.55"/>
<path d="M778.7,326.7 L779.4,331.8 M779.4,331.8 L778.9,330.1 M779.4,331.8 L779.4,330" stroke="#0000ff" stroke-width="1.55"/>
<path d="M765,412.5 L760.1,411 M760.1,411 L761.9,411.3 M760.1,411 L761.7,411.8" stroke="#0000ff" stroke-width="1.55"/>
<path d="M755.1,264.6 L760.1,263 M760.1,263 L758.4,263.8 M760.1,263 L758.3,263.3" stroke="#0000ff" stroke-width="1.55"/>
<path d="M738.4,323.5 L748.7,324.6 M748.7,324.6 L742,324.6 M748.7,324.6 L742.1,323.2" stroke="#0000ff"/>
<path d="M726,246.4 L730,242.9 M730,242.9 L728.8,244.3 M730,242.9 L728.4,243.9" stroke="#0000ff" stroke-width="1.55"/>
<path d="M733.9,434.7 L730,431.1 M730,431.1 L731.5,432.2 M730,431.1 L731.1,432.6" stroke="#0000ff" stroke-width="1.55"/>
<path d="M755.3,356.7 L748.7,348.5 M748.7,348.5 L753.5,353.3 M748.7,348.5 L752.4,354.2" stroke="#0000ff"/>
<path d="M690.5,233.7 L692.9,228.9 M692.9,228.9 L692.3,230.7 M692.9,228.9 L691.8,230.4" stroke="#0000ff" stroke-width="1.55"/>
<path d="M776.5,316.6 L778.7,321.6 M778.7,321.6 L777.7,320 M778.7,321.6 L778.2,319.8" stroke="#0000ff" stroke-width="1.55"/>
<path d="M780.8,347.5 L778.7,352.4 M778.7,352.4 L779.2,350.6 M778.7,352.4 L779.6,350.8" stroke="#0000ff" stroke-width="1.55"/>
<path d="M741.6,332.6 L748.7,324.6 M748.7,324.6 L744.7,330.2 M748.7,324.6 L743.6,329.3" stroke="#0000ff"/>
<path d="M767.6,340.1 L760.8,348.5 M760.8,348.5 L764.6,342.6 M760.8,348.5 L765.7,343.5" stroke="#0000ff"/>
<path d="M771.2,357.5 L760.8,360.4 M760.8,360.4 L767.3,357.8 M760.8,360.4 L767.7,359.2" stroke="#0000ff"/>
<path d="M770.3,402.8 L764.8,401.8 M764.8,401.8 L766.8,401.9 M764.8,401.8 L766.7,402.4" stroke="#0000ff" stroke-width="1.55"/>
<path d="M759.3,273.1 L764.8,272.2 M764.8,272.2 L763,272.8 M764.8,272.2 L762.9,272.2" stroke="#0000ff" stroke-width="1.55"/>
<path d="M628.5,229.3 L628.5,223.7 M628.5,223.7 L628.8,225.6 M628.5,223.7 L628.2,225.6" stroke="#0000ff" stroke-width="1.55"/>
<path d="M704.6,444.2 L701.6,439.4 M701.6,439.4 L702.9,440.9 M701.6,439.4 L702.4,441.2" stroke="#0000ff" stroke-width="1.55"/>
<path d="M698.7,239.4 L701.6,234.6 M701.6,234.6 L700.8,236.4 M701.6,234.6 L700.4,236.1" stroke="#0000ff" stroke-width="1.55"/>
<path d="M638.6,229.8 L639,224.2 M639,224.2 L639.1,226.1 M639,224.2 L638.5,226.1" stroke="#0000ff" stroke-width="1.55"/>
<path d="M741.2,426.7 L736.7,423.3 M736.7,423.3 L738.4,424.2 M736.7,423.3 L738.1,424.7" stroke="#0000ff" stroke-width="1.55"/>
<path d="M732.2,254.1 L736.7,250.7 M736.7,250.7 L735.3,252.1 M736.7,250.7 L735,251.7" stroke="#0000ff" stroke-width="1.55"/>
<path d="M753.7,316.4 L760.8,324.6 M760.8,324.6 L755.7,319.8 M760.8,324.6 L756.8,318.8" stroke="#0000ff"/>
<path d="M774.5,325.7 L772.9,336.6 M772.9,336.6 L773.2,329.5 M772.9,336.6 L774.7,329.7" stroke="#0000ff"/>
<path d="M648.5,231.2 L649.3,225.6 M649.3,225.6 L649.3,227.6 M649.3,225.6 L648.8,227.5" stroke="#0000ff" stroke-width="1.55"/>
<path d="M771,325.8 L772.9,336.6 M772.9,336.6 L770.9,329.7 M772.9,336.6 L772.4,329.5" stroke="#0000ff"/>
<path d="M775.6,337.8 L772.9,348.5 M772.9,348.5 L773.9,341.4 M772.9,348.5 L775.4,341.7" stroke="#0000ff"/>
<path d="M658.3,233.7 L659.5,228 M659.5,228 L659.4,230 M659.5,228 L658.8,229.9" stroke="#0000ff" stroke-width="1.55"/>
<path d="M769.8,314 L772.9,324.6 M772.9,324.6 L770.2,318 M772.9,324.6 L771.6,317.5" stroke="#0000ff"/>
<path d="M750.1,309.9 L760.8,312.7 M760.8,312.7 L753.7,311.6 M760.8,312.7 L754.1,310.2" stroke="#0000ff"/>
<path d="M759.9,359.5 L748.7,360.4 M748.7,360.4 L755.9,359 M748.7,360.4 L756,360.6" stroke="#0000ff"/>
<path d="M706.4,245.7 L709.8,241 M709.8,241 L708.9,242.8 M709.8,241 L708.4,242.4" stroke="#0000ff" stroke-width="1.55"/>
<path d="M713.3,437.8 L709.8,433 M709.8,433 L711.3,434.5 M709.8,433 L710.8,434.9" stroke="#0000ff" stroke-width="1.55"/>
<path d="M667.7,237.1 L669.4,231.4 M669.4,231.4 L669.1,233.4 M669.4,231.4 L668.6,233.2" stroke="#0000ff" stroke-width="1.55"/>
<path d="M671.1,448.4 L669.4,442.6 M669.4,442.6 L670.3,444.5 M669.4,442.6 L669.7,444.7" stroke="#0000ff" stroke-width="1.55"/>
<path d="M768.8,352.4 L760.8,360.4 M760.8,360.4 L765.5,354.7 M760.8,360.4 L766.5,355.8" stroke="#0000ff"/>
<path d="M748,418.1 L742.9,415 M742.9,415 L744.8,415.8 M742.9,415 L744.5,416.3" stroke="#0000ff" stroke-width="1.55"/>
<path d="M737.7,262.1 L742.9,259 M742.9,259 L741.2,260.4 M742.9,259 L740.9,259.9" stroke="#0000ff" stroke-width="1.55"/>
<path d="M775,392.4 L768.9,392.4 M768.9,392.4 L771,392.1 M768.9,392.4 L771,392.7" stroke="#0000ff" stroke-width="1.55"/>
<path d="M762.9,281.7 L768.9,281.6 M768.9,281.6 L766.8,281.9 M768.9,281.6 L766.8,281.3" stroke="#0000ff" stroke-width="1.55"/>
<path d="M752.4,304.9 L760.8,312.7 M760.8,312.7 L754.8,308.2 M760.8,312.7 L755.9,307.1" stroke="#0066ff"/>
<path d="M737.2,311.9 L748.7,312.7 M748.7,312.7 L741.2,313 M748.7,312.7 L741.4,311.4" stroke="#0066ff"/>
<path d="M681.2,444.2 L679,438.4 M679,438.4 L680,440.3 M679,438.4 L679.5,440.5" stroke="#0066ff" stroke-width="1.55"/>
<path d="M676.8,241.4 L679,235.6 M679,235.6 L678.5,237.7 M679,235.6 L678,237.5" stroke="#0066ff" stroke-width="1.55"/>
<path d="M740.2,347.6 L736.6,336.6 M736.6,336.6 L739.7,343.4 M736.6,336.6 L738.2,343.9" stroke="#0066ff"/>
<path d="M721.6,430.7 L717.5,426 M717.5,426 L719.2,427.4 M717.5,426 L718.7,427.8" stroke="#0066ff" stroke-width="1.55"/>
<path d="M713.4,252.8 L717.5,248 M717.5,248 L716.3,249.9 M717.5,248 L715.8,249.5" stroke="#0066ff" stroke-width="1.55"/>
<path d="M732.4,347.4 L736.6,336.6 M736.6,336.6 L734.6,343.9 M736.6,336.6 L733.1,343.3" stroke="#0066ff"/>
<path d="M779.2,338.5 L772.9,348.5 M772.9,348.5 L776.3,341.6 M772.9,348.5 L777.6,342.5" stroke="#0066ff"/>
<path d="M766.3,314.8 L772.9,324.6 M772.9,324.6 L767.9,318.7 M772.9,324.6 L769.3,317.8" stroke="#0066ff"/>
<path d="M690.9,439.2 L688.1,433.3 M688.1,433.3 L689.4,435.2 M688.1,433.3 L688.8,435.5" stroke="#0066ff" stroke-width="1.55"/>
<path d="M685.4,246.5 L688.1,240.7 M688.1,240.7 L687.5,242.8 M688.1,240.7 L686.9,242.6" stroke="#0066ff" stroke-width="1.55"/>
<path d="M742.5,358.8 L736.6,348.5 M736.6,348.5 L741.1,354.8 M736.6,348.5 L739.7,355.6" stroke="#0066ff"/>
<path d="M742.4,270.5 L748.4,267.8 M748.4,267.8 L746.4,269 M748.4,267.8 L746.2,268.5" stroke="#0066ff" stroke-width="1.55"/>
<path d="M754.3,408.9 L748.4,406.2 M748.4,406.2 L750.5,406.9 M748.4,406.2 L750.3,407.4" stroke="#0066ff" stroke-width="1.55"/>
<path d="M730.2,334.8 L736.6,324.6 M736.6,324.6 L733.2,331.6 M736.6,324.6 L731.8,330.7" stroke="#0066ff"/>
<path d="M633.5,243 L633.8,236.4 M633.8,236.4 L634,238.7 M633.8,236.4 L633.4,238.7" stroke="#0066ff" stroke-width="1.55"/>
<path d="M634,444.2 L633.8,437.6 M633.8,437.6 L634.2,439.9 M633.8,437.6 L633.5,439.9" stroke="#0066ff" stroke-width="1.55"/>
<path d="M780.4,350.8 L772.9,360.4 M772.9,360.4 L777.1,353.7 M772.9,360.4 L778.4,354.7" stroke="#0066ff"/>
<path d="M765.8,290 L772.4,291.3 M772.4,291.3 L770,291.2 M772.4,291.3 L770.2,290.6" stroke="#0066ff" stroke-width="1.55"/>
<path d="M778.9,381.4 L772.4,382.7 M772.4,382.7 L774.6,381.9 M772.4,382.7 L774.7,382.5" stroke="#0066ff" stroke-width="1.55"/>
<path d="M643.5,244.2 L644.3,237.5 M644.3,237.5 L644.3,239.8 M644.3,237.5 L643.7,239.8" stroke="#0066ff" stroke-width="1.55"/>
<path d="M645,443.2 L644.3,436.5 M644.3,436.5 L644.8,438.8 M644.3,436.5 L644.2,438.9" stroke="#0066ff" stroke-width="1.55"/>
<path d="M766.1,297.8 L772.9,300.8 M772.9,300.8 L768.3,299.3 M772.9,300.8 L768.7,298.4" stroke="#0066ff" stroke-width="1.55"/>
<path d="M729.4,423 L724.5,418.3 M724.5,418.3 L726.5,419.7 M724.5,418.3 L726,420.2" stroke="#0066ff" stroke-width="1.55"/>
<path d="M719.7,260.3 L724.5,255.7 M724.5,255.7 L723.1,257.5 M724.5,255.7 L722.6,257" stroke="#0066ff" stroke-width="1.55"/>
<path d="M765.1,303.3 L772.9,312.7 M772.9,312.7 L767.2,307.2 M772.9,312.7 L768.5,306.1" stroke="#0066ff"/>
<path d="M779.7,369.1 L772.9,372.3 M772.9,372.3 L777.1,369.8 M772.9,372.3 L777.5,370.7" stroke="#0066ff" stroke-width="1.55"/>
<path d="M655.8,441.1 L654.6,434.3 M654.6,434.3 L655.3,436.6 M654.6,434.3 L654.7,436.7" stroke="#0066ff" stroke-width="1.55"/>
<path d="M653.4,246.4 L654.6,239.7 M654.6,239.7 L654.5,242.1 M654.6,239.7 L653.8,242" stroke="#0066ff" stroke-width="1.55"/>
<path d="M700.2,433.4 L696.8,427.4 M696.8,427.4 L698.2,429.3 M696.8,427.4 L697.7,429.6" stroke="#0066ff" stroke-width="1.55"/>
<path d="M693.4,252.5 L696.8,246.6 M696.8,246.6 L695.9,248.8 M696.8,246.6 L695.3,248.5" stroke="#0066ff" stroke-width="1.55"/>
<path d="M773.5,329 L772.9,336.6 M772.9,336.6 L772.8,331.6 M772.9,336.6 L773.8,331.7" stroke="#0066ff" stroke-width="1.55"/>
<path d="M772.2,329 L772.9,336.6 M772.9,336.6 L771.9,331.7 M772.9,336.6 L772.9,331.6" stroke="#0066ff" stroke-width="1.55"/>
<path d="M774.5,341 L772.9,348.5 M772.9,348.5 L773.5,343.6 M772.9,348.5 L774.5,343.8" stroke="#0066ff" stroke-width="1.55"/>
<path d="M771.1,317.2 L772.9,324.6 M772.9,324.6 L771.2,320 M772.9,324.6 L772.2,319.7" stroke="#0066ff" stroke-width="1.55"/>
<path d="M775.8,341.3 L772.9,348.5 M772.9,348.5 L774.3,343.7 M772.9,348.5 L775.3,344.1" stroke="#0066ff" stroke-width="1.55"/>
<path d="M769.8,317.6 L772.9,324.6 M772.9,324.6 L770.4,320.3 M772.9,324.6 L771.4,319.9" stroke="#0066ff" stroke-width="1.55"/>
<path d="M759.8,354.5 L748.7,348.5 M748.7,348.5 L756.3,351.6 M748.7,348.5 L755.5,353.1" stroke="#0066ff"/>
<path d="M662.8,249.8 L664.6,242.9 M664.6,242.9 L664.3,245.4 M664.6,242.9 L663.7,245.2" stroke="#0066ff" stroke-width="1.55"/>
<path d="M666.4,437.9 L664.6,431.1 M664.6,431.1 L665.6,433.3 M664.6,431.1 L664.9,433.5" stroke="#0066ff" stroke-width="1.55"/>
<path d="M776.9,353.7 L772.9,360.4 M772.9,360.4 L775,355.8 M772.9,360.4 L776,356.3" stroke="#0066ff" stroke-width="1.55"/>
<path d="M768.7,306.1 L772.9,312.7 M772.9,312.7 L769.7,308.7 M772.9,312.7 L770.6,308.2" stroke="#0066ff" stroke-width="1.55"/>
<path d="M746.3,279.1 L753.2,277 M753.2,277 L750.9,278 M753.2,277 L750.7,277.4" stroke="#0066ff" stroke-width="1.55"/>
<path d="M760,399.2 L753.2,397 M753.2,397 L755.7,397.5 M753.2,397 L755.5,398.1" stroke="#0066ff" stroke-width="1.55"/>
<path d="M778.2,354.5 L772.9,360.4 M772.9,360.4 L775.9,356.2 M772.9,360.4 L776.7,356.9" stroke="#0066ff" stroke-width="1.55"/>
<path d="M766.5,296.1 L772.9,300.8 M772.9,300.8 L768.4,298.2 M772.9,300.8 L769.1,297.3" stroke="#0066ff" stroke-width="1.55"/>
<path d="M737.3,330.5 L748.7,324.6 M748.7,324.6 L741.8,329.2 M748.7,324.6 L741,327.7" stroke="#0066ff"/>
<path d="M767.4,306.9 L772.9,312.7 M772.9,312.7 L769,309.4 M772.9,312.7 L769.7,308.6" stroke="#0066ff" stroke-width="1.55"/>
<path d="M779.2,367.4 L772.9,372.3 M772.9,372.3 L776.6,368.7 M772.9,372.3 L777.3,369.5" stroke="#0066ff" stroke-width="1.55"/>
<path d="M725.2,268.4 L730.9,263.9 M730.9,263.9 L729.1,265.7 M730.9,263.9 L728.7,265.2" stroke="#0066ff" stroke-width="1.55"/>
<path d="M736.7,414.7 L730.9,410.1 M730.9,410.1 L733.1,411.4 M730.9,410.1 L732.7,412" stroke="#0066ff" stroke-width="1.55"/>
<path d="M700.7,259.4 L704.8,253.3 M704.8,253.3 L703.7,255.6 M704.8,253.3 L703.1,255.2" stroke="#0066ff" stroke-width="1.55"/>
<path d="M709,426.8 L704.8,420.7 M704.8,420.7 L706.6,422.6 M704.8,420.7 L706,423" stroke="#0066ff" stroke-width="1.55"/>
<path d="M676.6,433.8 L674.2,426.8 M674.2,426.8 L675.4,429.1 M674.2,426.8 L674.7,429.3" stroke="#0066ff" stroke-width="1.55"/>
<path d="M671.9,254.2 L674.2,247.2 M674.2,247.2 L673.8,249.8 M674.2,247.2 L673.1,249.5" stroke="#0066ff" stroke-width="1.55"/>
<path d="M761,366 L748.7,360.4 M748.7,360.4 L757,363.2 M748.7,360.4 L756.3,364.8" stroke="#00a0ff"/>
<path d="M686.4,428.7 L683.4,421.5 M683.4,421.5 L684.8,423.9 M683.4,421.5 L684.1,424.1" stroke="#00a0ff" stroke-width="1.55"/>
<path d="M680.3,259.7 L683.4,252.5 M683.4,252.5 L682.7,255.2 M683.4,252.5 L682,254.9" stroke="#00a0ff" stroke-width="1.55"/>
<path d="M772.9,354.2 L760.8,360.4 M760.8,360.4 L768.2,355.5 M760.8,360.4 L769,357.2" stroke="#00a0ff"/>
<path d="M628.5,256.7 L628.5,248.8 M628.5,248.8 L628.9,251.5 M628.5,248.8 L628.1,251.5" stroke="#00a0ff" stroke-width="1.55"/>
<path d="M628.5,433.1 L628.5,425.2 M628.5,425.2 L628.9,427.9 M628.5,425.2 L628.1,427.9" stroke="#00a0ff" stroke-width="1.55"/>
<path d="M638.2,257.3 L638.7,249.4 M638.7,249.4 L638.9,252.2 M638.7,249.4 L638.2,252.1" stroke="#00a0ff" stroke-width="1.55"/>
<path d="M639.3,432.5 L638.7,424.6 M638.7,424.6 L639.3,427.3 M638.7,424.6 L638.5,427.4" stroke="#00a0ff" stroke-width="1.55"/>
<path d="M747.5,356.7 L736.6,348.5 M736.6,348.5 L744.2,353 M736.6,348.5 L743.1,354.5" stroke="#00a0ff"/>
<path d="M784.1,352.6 L772.9,360.4 M772.9,360.4 L779.6,354.6 M772.9,360.4 L780.7,356.1" stroke="#00a0ff"/>
<path d="M717.2,419.5 L712.2,413.3 M712.2,413.3 L714.3,415.2 M712.2,413.3 L713.7,415.7" stroke="#00a0ff" stroke-width="1.55"/>
<path d="M707.2,266.9 L712.2,260.7 M712.2,260.7 L710.8,263.1 M712.2,260.7 L710.2,262.6" stroke="#00a0ff" stroke-width="1.55"/>
<path d="M736.1,318.2 L748.7,312.7 M748.7,312.7 L740.9,317.1 M748.7,312.7 L740.2,315.4" stroke="#00a0ff"/>
<path d="M649.9,430.8 L648.8,422.8 M648.8,422.8 L649.6,425.5 M648.8,422.8 L648.8,425.6" stroke="#00a0ff"/>
<path d="M647.7,259.2 L648.8,251.2 M648.8,251.2 L648.8,254 M648.8,251.2 L648.1,253.9" stroke="#00a0ff"/>
<path d="M748.3,306.7 L760.8,312.7 M760.8,312.7 L752.3,309.7 M760.8,312.7 L753.2,308" stroke="#00a0ff"/>
<path d="M761.3,305.2 L772.9,312.7 M772.9,312.7 L764.9,308.6 M772.9,312.7 L765.9,307.1" stroke="#00a0ff"/>
<path d="M749.4,287.8 L757.3,286.4 M757.3,286.4 L754.6,287.3 M757.3,286.4 L754.5,286.5" stroke="#00a0ff"/>
<path d="M765.3,388.9 L757.3,387.6 M757.3,387.6 L760.2,387.6 M757.3,387.6 L760,388.4" stroke="#00a0ff"/>
<path d="M743.4,405.8 L736.6,401.4 M736.6,401.4 L739.2,402.6 M736.6,401.4 L738.8,403.3" stroke="#00a0ff"/>
<path d="M729.8,276.9 L736.6,272.6 M736.6,272.6 L734.5,274.4 M736.6,272.6 L734,273.8" stroke="#00a0ff"/>
<path d="M725.3,332.7 L736.6,324.6 M736.6,324.6 L729.9,330.6 M736.6,324.6 L728.8,329.1" stroke="#00a0ff"/>
<path d="M764.2,298.4 L772.9,300.8 M772.9,300.8 L767.1,299.8 M772.9,300.8 L767.4,298.7" stroke="#00a0ff"/>
<path d="M660.4,428 L658.7,419.9 M658.7,419.9 L659.7,422.6 M658.7,419.9 L658.9,422.8" stroke="#00a0ff"/>
<path d="M657,262.3 L658.7,254.1 M658.7,254.1 L658.5,257 M658.7,254.1 L657.7,256.9" stroke="#00a0ff"/>
<path d="M695.7,422.8 L691.9,415.3 M691.9,415.3 L693.6,417.7 M691.9,415.3 L692.9,418.1" stroke="#00a0ff"/>
<path d="M688.1,266.2 L691.9,258.7 M691.9,258.7 L690.9,261.5 M691.9,258.7 L690.2,261.1" stroke="#00a0ff"/>
<path d="M781.8,369.7 L772.9,372.3 M772.9,372.3 L778.5,370 M772.9,372.3 L778.8,371.2" stroke="#00a0ff"/>
<path d="M785.5,365.4 L772.9,372.3 M772.9,372.3 L780.6,367 M772.9,372.3 L781.5,368.7" stroke="#00a0ff"/>
<path d="M775.1,358.8 L760.8,360.4 M760.8,360.4 L770,358.4 M760.8,360.4 L770.2,360.3" stroke="#00a0ff"/>
<path d="M748.9,368.1 L736.6,360.4 M736.6,360.4 L745.1,364.5 M736.6,360.4 L744,366.2" stroke="#00a0ff"/>
<path d="M638.2,264.4 L638.8,255.8 M638.8,255.8 L639,258.8 M638.8,255.8 L638.1,258.7" stroke="#00a0ff"/>
<path d="M774.3,366.9 L760.8,372.3 M760.8,372.3 L769.2,367.9 M760.8,372.3 L769.9,369.7" stroke="#00a0ff"/>
<path d="M759.9,294.2 L772.9,300.8 M772.9,300.8 L764,297.4 M772.9,300.8 L764.9,295.7" stroke="#00a0ff"/>
<path d="M670.4,424.2 L668.1,415.8 M668.1,415.8 L669.3,418.6 M668.1,415.8 L668.5,418.9" stroke="#00a0ff"/>
<path d="M665.7,266.6 L668.1,258.2 M668.1,258.2 L667.7,261.2 M668.1,258.2 L666.9,261" stroke="#00a0ff"/>
<path d="M725,411.6 L718.9,405.3 M718.9,405.3 L721.3,407.2 M718.9,405.3 L720.7,407.8" stroke="#00a0ff"/>
<path d="M712.8,275 L718.9,268.7 M718.9,268.7 L717.1,271.2 M718.9,268.7 L716.5,270.6" stroke="#00a0ff"/>
<path d="M724,320.3 L736.6,312.7 M736.6,312.7 L729,318.4 M736.6,312.7 L728,316.7" stroke="#00a0ff"/>
<path d="M746.1,311.2 L760.8,312.7 M760.8,312.7 L751.2,312.8 M760.8,312.7 L751.4,310.8" stroke="#00a0ff"/>
<path d="M650.2,424.6 L649,415.8 M649,415.8 L649.8,418.8 M649,415.8 L649,418.9" stroke="#00a0ff"/>
<path d="M628.5,424.7 L628.5,415.8 M628.5,415.8 L628.9,418.9 M628.5,415.8 L628.1,418.9" stroke="#00a0ff"/>
<path d="M746.9,295.6 L760.8,300.8 M760.8,300.8 L751.4,298.4 M760.8,300.8 L752.1,296.5" stroke="#00a0ff"/>
<path d="M763.6,360.3 L748.7,360.4 M748.7,360.4 L758.4,359.3 M748.7,360.4 L758.4,361.4" stroke="#00a0ff"/>
<path d="M749.7,396.3 L741.6,392.3 M741.6,392.3 L744.6,393.3 M741.6,392.3 L744.2,394.1" stroke="#00a0ff"/>
<path d="M733.4,285.8 L741.6,281.7 M741.6,281.7 L738.9,283.5 M741.6,281.7 L738.5,282.7" stroke="#00a0ff"/>
<path d="M750.9,299.2 L760.8,300.8 M760.8,300.8 L754.3,300.5 M760.8,300.8 L754.5,299.1" stroke="#00a0ff"/>
<path d="M694.9,273.6 L699.7,265.8 M699.7,265.8 L698.5,268.7 M699.7,265.8 L697.7,268.2" stroke="#00d0ff"/>
<path d="M704.5,416.1 L699.7,408.2 M699.7,408.2 L701.8,410.7 M699.7,408.2 L701,411.2" stroke="#00d0ff"/>
<path d="M733.4,312.8 L748.7,312.7 M748.7,312.7 L738.8,313.8 M748.7,312.7 L738.8,311.7" stroke="#00d0ff"/>
<path d="M673.9,272.1 L677,263.3 M677,263.3 L676.3,266.5 M677,263.3 L675.5,266.2" stroke="#00d0ff"/>
<path d="M680.1,419.5 L677,410.7 M677,410.7 L678.5,413.6 M677,410.7 L677.6,413.9" stroke="#00d0ff"/>
<path d="M647.8,271.5 L649,262.2 M649,262.2 L649,265.5 M649,262.2 L648.1,265.3" stroke="#00d0ff"/>
<path d="M628.5,271.6 L628.5,262.2 M628.5,262.2 L628.9,265.4 M628.5,262.2 L628,265.4" stroke="#00d0ff"/>
<path d="M771,370.6 L760.8,372.3 M760.8,372.3 L767.3,370.5 M760.8,372.3 L767.5,371.9" stroke="#00d0ff"/>
<path d="M770.2,377.9 L760.8,377.8 M760.8,377.8 L764,377.4 M760.8,377.8 L764,378.3" stroke="#00d0ff"/>
<path d="M661.2,418.8 L659.2,409.4 M659.2,409.4 L660.4,412.6 M659.2,409.4 L659.5,412.8" stroke="#00d0ff"/>
<path d="M639.4,419 L638.8,409.4 M638.8,409.4 L639.4,412.7 M638.8,409.4 L638.5,412.8" stroke="#00d0ff"/>
<path d="M776.5,371.1 L760.8,372.3 M760.8,372.3 L770.7,370.5 M760.8,372.3 L770.8,372.6" stroke="#00d0ff"/>
<path d="M717.4,283.8 L724.8,277.4 M724.8,277.4 L722.6,279.9 M724.8,277.4 L721.9,279.2" stroke="#00d0ff"/>
<path d="M732.3,403.1 L724.8,396.6 M724.8,396.6 L727.7,398.5 M724.8,396.6 L727.1,399.2" stroke="#00d0ff"/>
<path d="M739.4,352.4 L736.6,336.6 M736.6,336.6 L739.4,346.2 M736.6,336.6 L737.3,346.5" stroke="#00d0ff"/>
<path d="M733.4,352.3 L736.6,336.6 M736.6,336.6 L735.6,346.5 M736.6,336.6 L733.6,346.1" stroke="#00d0ff"/>
<path d="M744.7,299.8 L760.8,300.8 M760.8,300.8 L750.8,301.2 M760.8,300.8 L751,299.1" stroke="#00d0ff"/>
<path d="M741.3,364 L736.6,348.5 M736.6,348.5 L740.5,357.7 M736.6,348.5 L738.5,358.3" stroke="#00d0ff"/>
<path d="M731.4,340 L736.6,324.6 M736.6,324.6 L734.4,334.4 M736.6,324.6 L732.5,333.7" stroke="#00d0ff"/>
<path d="M765,372.6 L748.7,372.3 M748.7,372.3 L758.7,371.4 M748.7,372.3 L758.7,373.5" stroke="#00d0ff"/>
<path d="M681.2,278.7 L685.2,269.4 M685.2,269.4 L684.3,272.9 M685.2,269.4 L683.4,272.5" stroke="#00d0ff"/>
<path d="M689.1,413.9 L685.2,404.6 M685.2,404.6 L687,407.6 M685.2,404.6 L686.1,408" stroke="#00d0ff"/>
<path d="M638.1,278.7 L638.8,268.6 M638.8,268.6 L639,272.1 M638.8,268.6 L638,272.1" stroke="#00d0ff"/>
<path d="M657.3,278.5 L659.2,268.6 M659.2,268.6 L659,272.1 M659.2,268.6 L658.1,271.9" stroke="#00d0ff"/>
<path d="M749.7,300.5 L760.8,300.8 M760.8,300.8 L753.6,301.4 M760.8,300.8 L753.6,299.9" stroke="#00d0ff"/>
<path d="M712.8,408.7 L706.8,400.4 M706.8,400.4 L709.3,403 M706.8,400.4 L708.5,403.6" stroke="#00d0ff"/>
<path d="M700.8,281.9 L706.8,273.6 M706.8,273.6 L705.1,276.8 M706.8,273.6 L704.3,276.2" stroke="#00d0ff"/>
<path d="M772.2,372 L760.8,372.3 M760.8,372.3 L768.2,371.3 M760.8,372.3 L768.2,372.9" stroke="#00d0ff"/>
<path d="M732,301.1 L748.7,300.8 M748.7,300.8 L738.8,302 M748.7,300.8 L738.8,300" stroke="#00d0ff"/>
<path d="M736,294.8 L745.7,291.3 M745.7,291.3 L742.5,293 M745.7,291.3 L742.2,292" stroke="#00d0ff"/>
<path d="M755.5,386.3 L745.7,382.7 M745.7,382.7 L749.3,383.5 M745.7,382.7 L749,384.5" stroke="#00d0ff"/>
<path d="M628.5,413.4 L628.5,403 M628.5,403 L629,406.6 M628.5,403 L628,406.6" stroke="#00d0ff"/>
<path d="M650.3,413.4 L649,403 M649,403 L650,406.5 M649,403 L648.9,406.7" stroke="#00d0ff"/>
<path d="M672.3,413.1 L669.5,403 M669.5,403 L671,406.4 M669.5,403 L670,406.6" stroke="#00d0ff"/>
<path d="M764.8,365.2 L748.7,360.4 M748.7,360.4 L758.6,362.2 M748.7,360.4 L758,364.2" stroke="#00d0ff"/>
<path d="M732.3,317.5 L748.7,312.7 M748.7,312.7 L739.5,316.5 M748.7,312.7 L738.9,314.5" stroke="#00ffff"/>
<path d="M746.7,362.4 L736.6,348.5 M736.6,348.5 L743.3,355.9 M736.6,348.5 L741.6,357.2" stroke="#00ffff"/>
<path d="M736.8,301.8 L748.7,300.8 M748.7,300.8 L741.1,302.2 M748.7,300.8 L741,300.6" stroke="#00ffff"/>
<path d="M726.1,338.4 L736.6,324.6 M736.6,324.6 L731.4,333.2 M736.6,324.6 L729.8,331.9" stroke="#00ffff"/>
<path d="M628.5,285.9 L628.5,275 M628.5,275 L629,278.8 M628.5,275 L628,278.8" stroke="#00ffff"/>
<path d="M647.7,285.9 L649,275 M649,275 L649.1,278.8 M649,275 L648,278.7" stroke="#00ffff"/>
<path d="M666.6,285.7 L669.5,275 M669.5,275 L669,278.8 M669.5,275 L668,278.6" stroke="#00ffff"/>
<path d="M752.9,366.8 L736.6,360.4 M736.6,360.4 L746.3,363.1 M736.6,360.4 L745.5,365" stroke="#00ffff"/>
<path d="M760.9,373.2 L748.7,372.3 M748.7,372.3 L756.7,372.1 M748.7,372.3 L756.5,373.7" stroke="#00ffff"/>
<path d="M727.1,353.9 L724.6,336.6 M724.6,336.6 L727,346.2 M724.6,336.6 L725,346.5" stroke="#00ffff"/>
<path d="M721.5,353.9 L724.6,336.6 M724.6,336.6 L723.8,346.5 M724.6,336.6 L721.8,346.2" stroke="#00ffff"/>
<path d="M720.8,293 L729.9,286.5 M729.9,286.5 L727.1,289.2 M729.9,286.5 L726.4,288.3" stroke="#00ffff"/>
<path d="M739,394 L729.9,387.5 M729.9,387.5 L733.4,389.3 M729.9,387.5 L732.8,390.2" stroke="#00ffff"/>
<path d="M687.6,286.5 L692.7,276.5 M692.7,276.5 L691.4,280.2 M692.7,276.5 L690.4,279.7" stroke="#00ffff"/>
<path d="M697.7,407.6 L692.7,397.5 M692.7,397.5 L694.9,400.8 M692.7,397.5 L693.9,401.2" stroke="#00ffff"/>
<path d="M729,365.6 L724.6,348.5 M724.6,348.5 L728.1,357.8 M724.6,348.5 L726,358.4" stroke="#00ffff"/>
<path d="M748.3,373.7 L736.6,360.4 M736.6,360.4 L744,367.2 M736.6,360.4 L742.4,368.6" stroke="#00ffff"/>
<path d="M719.6,341.7 L724.6,324.6 M724.6,324.6 L722.8,334.5 M724.6,324.6 L720.8,333.9" stroke="#00ffff"/>
<path d="M639.4,407.8 L638.8,396.6 M638.8,396.6 L639.5,400.5 M638.8,396.6 L638.4,400.5" stroke="#00ffff"/>
<path d="M720,319.1 L736.6,312.7 M736.6,312.7 L727.7,317.2 M736.6,312.7 L727,315.3" stroke="#00ffff"/>
<path d="M661.3,407.8 L659.2,396.6 M659.2,396.6 L660.5,400.4 M659.2,396.6 L659.4,400.6" stroke="#00ffff"/>
<path d="M724.5,325.9 L736.6,312.7 M736.6,312.7 L730.7,320.7 M736.6,312.7 L729.1,319.3" stroke="#00ffff"/>
<path d="M683.6,407.4 L679.8,396.6 M679.8,396.6 L681.6,400.2 M679.8,396.6 L680.5,400.5" stroke="#00ffff"/>
<path d="M766.2,376.9 L748.7,372.3 M748.7,372.3 L758.6,373.8 M748.7,372.3 L758.1,375.9" stroke="#00ffff"/>
<path d="M720.5,400.7 L713,391.9 M713,391.9 L716,394.6 M713,391.9 L715.2,395.3" stroke="#00ffff"/>
<path d="M705.5,291 L713,282.1 M713,282.1 L710.8,285.6 M713,282.1 L710,284.8" stroke="#00ffff"/>
<path d="M736.1,303.4 L748.7,300.8 M748.7,300.8 L740.7,303.4 M748.7,300.8 L740.4,301.6" stroke="#00ffff"/>
<path d="M638.1,293.2 L638.8,281.4 M638.8,281.4 L639.1,285.5 M638.8,281.4 L637.9,285.4" stroke="#00ffff"/>
<path d="M730.9,305.4 L748.7,300.8 M748.7,300.8 L739.4,304.3 M748.7,300.8 L738.8,302.3" stroke="#00ffff"/>
<path d="M734.2,364.2 L724.6,348.5 M724.6,348.5 L730.7,356.4 M724.6,348.5 L728.9,357.5" stroke="#00ffff"/>
<path d="M657.1,293.1 L659.2,281.4 M659.2,281.4 L659.1,285.6 M659.2,281.4 L657.9,285.4" stroke="#00ffff"/>
<path d="M714.4,340.2 L724.6,324.6 M724.6,324.6 L720,333.5 M724.6,324.6 L718.2,332.4" stroke="#00ffff"/>
<path d="M761.6,374.9 L748.7,372.3 M748.7,372.3 L757.3,373.1 M748.7,372.3 L756.9,374.9" stroke="#00ffff"/>
<path d="M754.3,378.4 L736.6,372.3 M736.6,372.3 L746.4,374.6 M736.6,372.3 L745.7,376.6" stroke="#00ffff"/>
<path d="M628.5,402.3 L628.5,390.2 M628.5,390.2 L629.1,394.4 M628.5,390.2 L627.9,394.4" stroke="#00ffff"/>
<path d="M675.8,292.9 L679.8,281.4 M679.8,281.4 L679,285.6 M679.8,281.4 L677.8,285.2" stroke="#00ffff"/>
<path d="M650.4,402.3 L649,390.2 M649,390.2 L650.1,394.3 M649,390.2 L648.9,394.5" stroke="#00ffff"/>
<path d="M735.9,375.5 L724.6,360.4 M724.6,360.4 L731.4,367.7 M724.6,360.4 L729.7,369" stroke="#00ffff"/>
<path d="M712.7,327.6 L724.6,312.7 M724.6,312.7 L719.2,321.2 M724.6,312.7 L717.6,319.9" stroke="#00ffb2"/>
<path d="M718.6,306.8 L736.6,300.8 M736.6,300.8 L727.5,304.9 M736.6,300.8 L726.9,303" stroke="#00ffb2"/>
<path d="M672.5,402.3 L669.5,390.2 M669.5,390.2 L671.1,394.2 M669.5,390.2 L669.9,394.5" stroke="#00ffb2"/>
<path d="M723.6,304.9 L736.6,300.8 M736.6,300.8 L728.5,304.3 M736.6,300.8 L727.9,302.6" stroke="#00ffb2"/>
<path d="M628.5,300.4 L628.5,287.8 M628.5,287.8 L629.1,292.2 M628.5,287.8 L627.9,292.2" stroke="#00ffb2"/>
<path d="M695.2,401.8 L690,390.2 M690,390.2 L692.4,394 M690,390.2 L691.2,394.5" stroke="#00ffb2"/>
<path d="M647.7,300.4 L649,287.8 M649,287.8 L649.2,292.2 M649,287.8 L647.9,292.1" stroke="#00ffb2"/>
<path d="M750,376.4 L736.6,372.3 M736.6,372.3 L745.6,374.1 M736.6,372.3 L745,375.9" stroke="#00ffb2"/>
<path d="M692.9,295.4 L699.2,284.3 M699.2,284.3 L697.6,288.5 M699.2,284.3 L696.5,287.8" stroke="#00ffb2"/>
<path d="M705.6,400.7 L699.2,389.7 M699.2,389.7 L702,393.2 M699.2,389.7 L700.9,393.8" stroke="#00ffb2"/>
<path d="M639.4,396.7 L638.8,383.8 M638.8,383.8 L639.6,388.2 M638.8,383.8 L638.3,388.3" stroke="#00ffb2"/>
<path d="M752.9,371.7 L736.6,360.4 M736.6,360.4 L745.4,365.2 M736.6,360.4 L744.2,366.9" stroke="#00ffb2"/>
<path d="M745.4,384.5 L734.1,377.9 M734.1,377.9 L738.4,379.7 M734.1,377.9 L737.7,380.8" stroke="#00ffb2"/>
<path d="M666.5,300.5 L669.5,287.8 M669.5,287.8 L669.1,292.4 M669.5,287.8 L667.8,292.1" stroke="#00ffb2"/>
<path d="M720,323.9 L736.6,312.7 M736.6,312.7 L729,319.1 M736.6,312.7 L727.8,317.4" stroke="#00ffb2"/>
<path d="M661.3,396.8 L659.2,383.8 M659.2,383.8 L660.6,388.2 M659.2,383.8 L659.3,388.4" stroke="#00ffb2"/>
<path d="M723.3,306.8 L736.6,300.8 M736.6,300.8 L728.4,305.6 M736.6,300.8 L727.6,303.8" stroke="#00ffb2"/>
<path d="M638.1,307.6 L638.8,294.2 M638.8,294.2 L639.2,298.9 M638.8,294.2 L637.9,298.8" stroke="#00ffb2"/>
<path d="M708.7,300.8 L718.3,291.3 M718.3,291.3 L715.4,295 M718.3,291.3 L714.5,294.1" stroke="#00ffb2"/>
<path d="M727.8,392.3 L718.3,382.7 M718.3,382.7 L722.1,385.6 M718.3,382.7 L721.1,386.5" stroke="#00ffb2"/>
<path d="M684.7,300.3 L690,287.8 M690,287.8 L688.8,292.4 M690,287.8 L687.5,291.9" stroke="#00ffb2"/>
<path d="M750.3,378.4 L736.6,372.3 M736.6,372.3 L745.9,375.3 M736.6,372.3 L745,377.2" stroke="#00ffb2"/>
<path d="M740.6,373.3 L724.6,360.4 M724.6,360.4 L733,365.8 M724.6,360.4 L731.6,367.4" stroke="#00ffb2"/>
<path d="M628.5,391 L628.5,377.4 M628.5,377.4 L629.2,382.1 M628.5,377.4 L627.8,382.1" stroke="#00ffb2"/>
<path d="M754.4,383 L736.6,372.3 M736.6,372.3 L745.7,376.5 M736.6,372.3 L744.6,378.3" stroke="#00ffb2"/>
<path d="M683.8,397 L679.8,383.8 M679.8,383.8 L681.8,388.2 M679.8,383.8 L680.5,388.6" stroke="#00ffb2"/>
<path d="M657.2,307.8 L659.2,294.2 M659.2,294.2 L659.2,299 M659.2,294.2 L657.9,298.8" stroke="#00ffb2"/>
<path d="M708,325.5 L724.6,312.7 M724.6,312.7 L717.3,319.6 M724.6,312.7 L716.1,318" stroke="#00ff66"/>
<path d="M650.3,391.2 L649,377.4 M649,377.4 L650.1,382.1 M649,377.4 L648.8,382.2" stroke="#00ff66"/>
<path d="M718.4,311.3 L736.6,300.8 M736.6,300.8 L728.6,306.7 M736.6,300.8 L727.5,304.9" stroke="#00ff66"/>
<path d="M711.2,308.5 L724.6,300.8 M724.6,300.8 L716.5,306.7 M724.6,300.8 L715.4,304.9" stroke="#00ff66"/>
<path d="M628.5,314.7 L628.5,300.6 M628.5,300.6 L629.2,305.5 M628.5,300.6 L627.8,305.5" stroke="#00ff66"/>
<path d="M742.2,384.5 L724.6,372.3 M724.6,372.3 L733.3,377.1 M724.6,372.3 L732.1,378.8" stroke="#00ff66"/>
<path d="M738.2,380.1 L724.6,372.3 M724.6,372.3 L733.7,376.3 M724.6,372.3 L732.7,378.2" stroke="#00ff66"/>
<path d="M647.8,314.9 L649,300.6 M649,300.6 L649.3,305.6 M649,300.6 L647.9,305.5" stroke="#00ff66"/>
<path d="M639.3,385.4 L638.8,371 M638.8,371 L639.6,375.9 M638.8,371 L638.2,376" stroke="#00ff66"/>
<path d="M672.4,391.6 L669.5,377.4 M669.5,377.4 L671.2,382.1 M669.5,377.4 L669.8,382.4" stroke="#00ff66"/>
<path d="M706.5,312.8 L724.6,300.8 M724.6,300.8 L716.9,307.2 M724.6,300.8 L715.7,305.4" stroke="#00ff66"/>
<path d="M675.7,308.2 L679.8,294.2 M679.8,294.2 L679,299.2 M679.8,294.2 L677.7,298.8" stroke="#00ff66"/>
<path d="M638.2,321.8 L638.8,307 M638.8,307 L639.3,312 M638.8,307 L637.9,311.9" stroke="#00ff66"/>
<path d="M711.5,310.6 L724.6,300.8 M724.6,300.8 L717.2,307.6 M724.6,300.8 L716,305.9" stroke="#00ff66"/>
<path d="M726.7,358.6 L724.6,336.6 M724.6,336.6 L726.6,346.3 M724.6,336.6 L724.5,346.5" stroke="#00ff66"/>
<path d="M721.9,358.6 L724.6,336.6 M724.6,336.6 L724.4,346.5 M724.6,336.6 L722.3,346.3" stroke="#00ff66"/>
<path d="M728.3,370.4 L724.6,348.5 M724.6,348.5 L727.3,358.1 M724.6,348.5 L725.2,358.4" stroke="#00ff66"/>
<path d="M661.1,385.8 L659.2,371 M659.2,371 L660.5,375.8 M659.2,371 L659.2,376" stroke="#00ff66"/>
<path d="M720.3,346.5 L724.6,324.6 M724.6,324.6 L723.7,334.6 M724.6,324.6 L721.6,334.2" stroke="#00ff66"/>
<path d="M696.6,305.4 L704.9,292.9 M704.9,292.9 L702.7,297.4 M704.9,292.9 L701.6,296.6" stroke="#00ff66"/>
<path d="M713.1,393.6 L704.9,381.1 M704.9,381.1 L708.2,384.8 M704.9,381.1 L707,385.6" stroke="#00ff66"/>
<path d="M628.5,379.6 L628.5,364.6 M628.5,364.6 L629.2,369.6 M628.5,364.6 L627.8,369.6" stroke="#00ff66"/>
<path d="M666.8,315.4 L669.5,300.6 M669.5,300.6 L669.3,305.6 M669.5,300.6 L667.9,305.3" stroke="#00ff66"/>
<path d="M733.1,369.2 L724.6,348.5 M724.6,348.5 L729.3,357.3 M724.6,348.5 L727.4,358.1" stroke="#00ff66"/>
<path d="M715.5,345.2 L724.6,324.6 M724.6,324.6 L721.5,334.2 M724.6,324.6 L719.6,333.3" stroke="#00ff66"/>
<path d="M737.9,382.3 L724.6,372.3 M724.6,372.3 L733.2,377.4 M724.6,372.3 L731.9,379.1" stroke="#00ff66"/>
<path d="M734.7,380.5 L724.6,360.4 M724.6,360.4 L730,368.8 M724.6,360.4 L728.1,369.7" stroke="#00ff66"/>
<path d="M713.9,332.6 L724.6,312.7 M724.6,312.7 L720.8,322 M724.6,312.7 L718.9,321" stroke="#00ff66"/>
<path d="M650,379.9 L649,364.6 M649,364.6 L650,369.5 M649,364.6 L648.6,369.6" stroke="#00ff66"/>
<path d="M628.5,328.8 L628.5,313.4 M628.5,313.4 L629.2,318.4 M628.5,313.4 L627.8,318.4" stroke="#00f000"/>
<path d="M657.6,322.3 L659.2,307 M659.2,307 L659.4,312 M659.2,307 L658,311.8" stroke="#00f000"/>
<path d="M692.7,307.7 L700.2,294.2 M700.2,294.2 L698.4,298.9 M700.2,294.2 L697.2,298.2" stroke="#00f000"/>
<path d="M699.9,312.4 L712.5,300.8 M712.5,300.8 L705.9,308.3 M712.5,300.8 L704.5,306.8" stroke="#00f000"/>
<path d="M639.1,373.8 L638.8,358.2 M638.8,358.2 L639.6,363.1 M638.8,358.2 L638.2,363.2" stroke="#00f000"/>
<path d="M695.5,392 L690,377.4 M690,377.4 L692.4,381.8 M690,377.4 L691.1,382.3" stroke="#00f000"/>
<path d="M648.1,329.1 L649,313.4 M649,313.4 L649.4,318.4 M649,313.4 L648,318.3" stroke="#00f000"/>
<path d="M739.6,378.2 L724.6,360.4 M724.6,360.4 L731.8,367.3 M724.6,360.4 L730.2,368.7" stroke="#00f000"/>
<path d="M725.3,384.1 L712.5,372.3 M712.5,372.3 L720.5,378.3 M712.5,372.3 L719.1,379.8" stroke="#00f000"/>
<path d="M709,330.2 L724.6,312.7 M724.6,312.7 L718.8,320.9 M724.6,312.7 L717.2,319.5" stroke="#00f000"/>
<path d="M638.4,335.7 L638.8,319.8 M638.8,319.8 L639.3,324.8 M638.8,319.8 L638,324.7" stroke="#00f000"/>
<path d="M628.5,367.8 L628.5,351.8 M628.5,351.8 L629.2,356.8 M628.5,351.8 L627.8,356.8" stroke="#00f000"/>
<path d="M683.5,386.7 L679.8,371 M679.8,371 L681.6,375.7 M679.8,371 L680.2,376" stroke="#00f000"/>
<path d="M741.2,389.2 L724.6,372.3 M724.6,372.3 L732.3,378.6 M724.6,372.3 L730.8,380.1" stroke="#00f000"/>
<path d="M628.5,342.4 L628.5,326.2 M628.5,326.2 L629.2,331.2 M628.5,326.2 L627.8,331.2" stroke="#00f000"/>
<path d="M708.5,348.1 L712.5,324.6 M712.5,324.6 L711.8,334.6 M712.5,324.6 L709.8,334.3" stroke="#00f000"/>
<path d="M716,372 L712.5,348.5 M712.5,348.5 L715,358.1 M712.5,348.5 L712.9,358.5" stroke="#00f000"/>
<path d="M710,360.2 L712.5,336.6 M712.5,336.6 L712.5,346.5 M712.5,336.6 L710.4,346.3" stroke="#00f000"/>
<path d="M714.5,360.3 L712.5,336.6 M712.5,336.6 L714.4,346.4 M712.5,336.6 L712.3,346.5" stroke="#00f000"/>
<path d="M720.6,370.9 L712.5,348.5 M712.5,348.5 L716.9,357.5 M712.5,348.5 L714.9,358.2" stroke="#00f000"/>
<path d="M703.9,346.9 L712.5,324.6 M712.5,324.6 L709.9,334.3 M712.5,324.6 L707.9,333.5" stroke="#00f000"/>
<path d="M707.4,317.4 L724.6,300.8 M724.6,300.8 L718.1,308.5 M724.6,300.8 L716.7,307" stroke="#00f000"/>
<path d="M722.2,382.2 L712.5,360.4 M712.5,360.4 L717.5,369 M712.5,360.4 L715.6,369.9" stroke="#00f000"/>
<path d="M701,314.6 L712.5,300.8 M712.5,300.8 L706.9,309.1 M712.5,300.8 L705.3,307.8" stroke="#00f000"/>
<path d="M702.3,334.3 L712.5,312.7 M712.5,312.7 L709.2,322.2 M712.5,312.7 L707.3,321.3" stroke="#00f000"/>
<path d="M671.8,380.7 L669.5,364.6 M669.5,364.6 L670.9,369.4 M669.5,364.6 L669.5,369.6" stroke="#00f000"/>
<path d="M638.9,361.7 L638.8,345.4 M638.8,345.4 L639.5,350.3 M638.8,345.4 L638.1,350.4" stroke="#00f000"/>
<path d="M649.6,368.1 L649,351.8 M649,351.8 L649.9,356.7 M649,351.8 L648.5,356.8" stroke="#00f000"/>
<path d="M660.5,374.5 L659.2,358.2 M659.2,358.2 L660.3,363.1 M659.2,358.2 L658.9,363.2" stroke="#00f000"/>
<path d="M628.5,355.4 L628.5,339 M628.5,339 L629.2,344 M628.5,339 L627.8,344" stroke="#00f000"/>
<path d="M638.7,349 L638.8,332.6 M638.8,332.6 L639.4,337.6 M638.8,332.6 L638,337.5" stroke="#00f000"/>
<path d="M692.7,317.2 L700.4,300.8 M700.4,300.8 L697.1,310.2 M700.4,300.8 L695.2,309.4" stroke="#00f000"/>
<path d="M648.6,342.7 L649,326.2 M649,326.2 L649.6,331.2 M649,326.2 L648.2,331.1" stroke="#00f000"/>
<path d="M727,379.8 L712.5,360.4 M712.5,360.4 L719.3,367.7 M712.5,360.4 L717.6,369" stroke="#00f000"/>
<path d="M684.6,316.3 L690,300.6 M690,300.6 L689.1,305.5 M690,300.6 L687.7,305.1" stroke="#00f000"/>
<path d="M724.2,386.3 L712.5,372.3 M712.5,372.3 L719.7,379.3 M712.5,372.3 L718.1,380.6" stroke="#00f000"/>
<path d="M697.5,331.8 L712.5,312.7 M712.5,312.7 L707.2,321.2 M712.5,312.7 L705.5,319.9" stroke="#00f000"/>
<path d="M658.2,336.4 L659.2,319.8 M659.2,319.8 L659.6,324.8 M659.2,319.8 L658.2,324.7" stroke="#00f000"/>
<path d="M690.4,316.2 L700.4,300.8 M700.4,300.8 L695.9,309.7 M700.4,300.8 L694.1,308.6" stroke="#00f000"/>
<path d="M708.1,389.1 L700.4,372.3 M700.4,372.3 L705.5,380.9 M700.4,372.3 L703.6,381.8" stroke="#00f000"/>
<path d="M649.1,355.8 L649,339 M649,339 L649.7,343.9 M649,339 L648.3,344" stroke="#00f000"/>
<path d="M667.4,330.1 L669.5,313.4 M669.5,313.4 L669.6,318.4 M669.5,313.4 L668.2,318.2" stroke="#00f000"/>
<path d="M728.6,390.7 L712.5,372.3 M712.5,372.3 L719.8,379.1 M712.5,372.3 L718.3,380.5" stroke="#00f000"/>
<path d="M676.3,323.5 L679.8,307 M679.8,307 L679.4,312 M679.8,307 L678.1,311.7" stroke="#00f000"/>
<path d="M695.8,318.9 L712.5,300.8 M712.5,300.8 L706.5,308.8 M712.5,300.8 L705,307.4" stroke="#99ff00"/>
<path d="M710.6,388.1 L700.4,372.3 M700.4,372.3 L706.7,380.1 M700.4,372.3 L704.9,381.2" stroke="#99ff00"/>
<path d="M659.8,362.6 L659.2,345.4 M659.2,345.4 L660.1,350.3 M659.2,345.4 L658.7,350.4" stroke="#99ff00"/>
<path d="M659,349.9 L659.2,332.6 M659.2,332.6 L659.9,337.6 M659.2,332.6 L658.5,337.5" stroke="#99ff00"/>
<path d="M670.9,369.3 L669.5,351.8 M669.5,351.8 L670.6,356.7 M669.5,351.8 L669.2,356.8" stroke="#99ff00"/>
<path d="M668.5,343.9 L669.5,326.2 M669.5,326.2 L669.9,331.2 M669.5,326.2 L668.5,331.1" stroke="#99ff00"/>
<path d="M682.4,375.8 L679.8,358.2 M679.8,358.2 L681.2,363 M679.8,358.2 L679.8,363.2" stroke="#99ff00"/>
<path d="M669.7,356.9 L669.5,339 M669.5,339 L670.2,343.9 M669.5,339 L668.9,344" stroke="#99ff00"/>
<path d="M677.6,337.8 L679.8,319.8 M679.8,319.8 L679.9,324.8 M679.8,319.8 L678.5,324.6" stroke="#99ff00"/>
<path d="M694.5,382.2 L690,364.6 M690,364.6 L691.9,369.2 M690,364.6 L690.5,369.6" stroke="#99ff00"/>
<path d="M693.3,319.5 L700.4,300.8 M700.4,300.8 L697.8,310.5 M700.4,300.8 L695.9,309.7" stroke="#99ff00"/>
<path d="M707.4,391.3 L700.4,372.3 M700.4,372.3 L704.8,381.3 M700.4,372.3 L702.8,382" stroke="#99ff00"/>
<path d="M680.8,363.9 L679.8,345.4 M679.8,345.4 L680.7,350.3 M679.8,345.4 L679.3,350.4" stroke="#ffff00"/>
<path d="M686.1,331.6 L690,313.4 M690,313.4 L689.6,318.4 M690,313.4 L688.3,318.1" stroke="#ffff00"/>
<path d="M679.2,351.3 L679.8,332.6 M679.8,332.6 L680.3,337.6 M679.8,332.6 L678.9,337.5" stroke="#ffff00"/>
<path d="M698.2,323.7 L712.5,300.8 M712.5,300.8 L708.1,309.8 M712.5,300.8 L706.3,308.7" stroke="#ffff00"/>
<path d="M726.3,395.5 L712.5,372.3 M712.5,372.3 L718.5,380.3 M712.5,372.3 L716.7,381.4" stroke="#ffff00"/>
<path d="M699.9,336.6 L712.5,312.7 M712.5,312.7 L708.8,322 M712.5,312.7 L706.9,321" stroke="#ffff00"/>
<path d="M694.4,332.8 L700.4,312.7 M700.4,312.7 L698.5,322.5 M700.4,312.7 L696.5,321.9" stroke="#ffff00"/>
<path d="M724.6,384.5 L712.5,360.4 M712.5,360.4 L717.9,368.8 M712.5,360.4 L716,369.7" stroke="#ffff00"/>
<path d="M706.2,380.7 L700.4,360.4 M700.4,360.4 L704.2,369.7 M700.4,360.4 L702.1,370.2" stroke="#ffff00"/>
<path d="M692.5,371 L690,351.8 M690,351.8 L691.3,356.6 M690,351.8 L689.9,356.8" stroke="#ffff00"/>
<path d="M687.7,324.6 L700.4,300.8 M700.4,300.8 L696.6,310.1 M700.4,300.8 L694.8,309.1" stroke="#ffff00"/>
<path d="M688.2,345.7 L690,326.2 M690,326.2 L690.2,331.2 M690,326.2 L688.8,331.1" stroke="#ffff00"/>
<path d="M712.6,396.4 L700.4,372.3 M700.4,372.3 L705.8,380.7 M700.4,372.3 L704,381.6" stroke="#ffff00"/>
<path d="M704.4,338.5 L712.5,312.7 M712.5,312.7 L710.5,322.5 M712.5,312.7 L708.5,321.9" stroke="#ffff00"/>
<path d="M720.2,386.3 L712.5,360.4 M712.5,360.4 L716.3,369.6 M712.5,360.4 L714.3,370.2" stroke="#ffff00"/>
<path d="M690.3,358.8 L690,339 M690,339 L690.8,343.9 M690,339 L689.4,344" stroke="#ffff00"/>
<path d="M695.8,334.1 L700.4,312.7 M700.4,312.7 L699.3,322.7 M700.4,312.7 L697.3,322.2" stroke="#ffff00"/>
<path d="M705.7,350.8 L712.5,324.6 M712.5,324.6 L711,334.5 M712.5,324.6 L709,334" stroke="#ffff00"/>
<path d="M704.8,381.9 L700.4,360.4 M700.4,360.4 L703.4,369.9 M700.4,360.4 L701.4,370.3" stroke="#ffb200"/>
<path d="M689.3,337.3 L700.4,312.7 M700.4,312.7 L697.3,322.2 M700.4,312.7 L695.4,321.4" stroke="#ffb200"/>
<path d="M718.9,374.7 L712.5,348.5 M712.5,348.5 L715.8,357.9 M712.5,348.5 L713.8,358.4" stroke="#ffb200"/>
<path d="M697,346.7 L700.4,324.6 M700.4,324.6 L699.9,334.6 M700.4,324.6 L697.9,334.3" stroke="#ffb200"/>
<path d="M709.4,351.5 L712.5,324.6 M712.5,324.6 L712.4,334.6 M712.5,324.6 L710.3,334.4" stroke="#ffb200"/>
<path d="M703.6,370.6 L700.4,348.5 M700.4,348.5 L702.9,358.2 M700.4,348.5 L700.8,358.5" stroke="#ffb200"/>
<path d="M715.2,375.3 L712.5,348.5 M712.5,348.5 L714.5,358.3 M712.5,348.5 L712.4,358.5" stroke="#ffb200"/>
<path d="M710.6,363.5 L712.5,336.6 M712.5,336.6 L712.8,346.5 M712.5,336.6 L710.7,346.4" stroke="#ffb200"/>
<path d="M714,363.5 L712.5,336.6 M712.5,336.6 L714.1,346.4 M712.5,336.6 L712,346.5" stroke="#ffb200"/>
<path d="M698.4,347.2 L700.4,324.6 M700.4,324.6 L700.6,334.6 M700.4,324.6 L698.5,334.5" stroke="#ffb200"/>
<path d="M702.2,371.1 L700.4,348.5 M700.4,348.5 L702.2,358.3 M700.4,348.5 L700.1,358.5" stroke="#ffb200"/>
<path d="M699.6,359.4 L700.4,336.6 M700.4,336.6 L701.1,346.5 M700.4,336.6 L699,346.5" stroke="#ffb200"/>
<path d="M701,359.4 L700.4,336.6 M700.4,336.6 L701.7,346.5 M700.4,336.6 L699.6,346.5" stroke="#ffb200"/>
<path d="M693.4,338.8 L700.4,312.7 M700.4,312.7 L698.8,322.6 M700.4,312.7 L696.8,322" stroke="#ffb200"/>
<path d="M711,385.2 L700.4,360.4 M700.4,360.4 L705.3,369.1 M700.4,360.4 L703.4,369.9" stroke="#ffb200"/>
<path d="M707.1,386.5 L700.4,360.4 M700.4,360.4 L703.9,369.8 M700.4,360.4 L701.8,370.3" stroke="#ff6600"/>
<path d="M694.5,351 L700.4,324.6 M700.4,324.6 L699.3,334.6 M700.4,324.6 L697.2,334.1" stroke="#ff6600"/>
<path d="M697.7,351.5 L700.4,324.6 M700.4,324.6 L700.5,334.6 M700.4,324.6 L698.4,334.4" stroke="#ff6600"/>
<path d="M705.9,374.9 L700.4,348.5 M700.4,348.5 L703.5,358 M700.4,348.5 L701.4,358.4" stroke="#ff0000"/>
<path d="M702.7,375.4 L700.4,348.5 M700.4,348.5 L702.3,358.3 M700.4,348.5 L700.2,358.5" stroke="#ff0000"/>
<path d="M698.8,363.5 L700.4,336.6 M700.4,336.6 L700.8,346.5 M700.4,336.6 L698.8,346.4" stroke="#ff0000"/>
<path d="M701.7,363.5 L700.4,336.6 M700.4,336.6 L701.9,346.4 M700.4,336.6 L699.8,346.5" stroke="#ff0000"/></g></g>
<path d="M628.2,337 C626.3,322 623.3,300 628.2,283 C633.1,300 630.1,322 628.2,337Z" fill="#2f8a3a"/>
<path d="M628.5,337 C646.5,335.8 670.5,333 684.5,337 C670.5,340.8 646.5,338.2 628.5,337Z" fill="#d42828"/>
<circle cx="628.2" cy="337" r="2.4" fill="#1030e0"/>
<text x="633.5" y="279" font-size="13" style="fill:#3f8f3f">YC</text>
<text x="628.3" y="337" font-size="13" style="fill:#2040e0">ZC</text>
<text x="670.5" y="332.3" font-size="13" style="fill:#c83030">XC</text>
</svg>
</body></html>
